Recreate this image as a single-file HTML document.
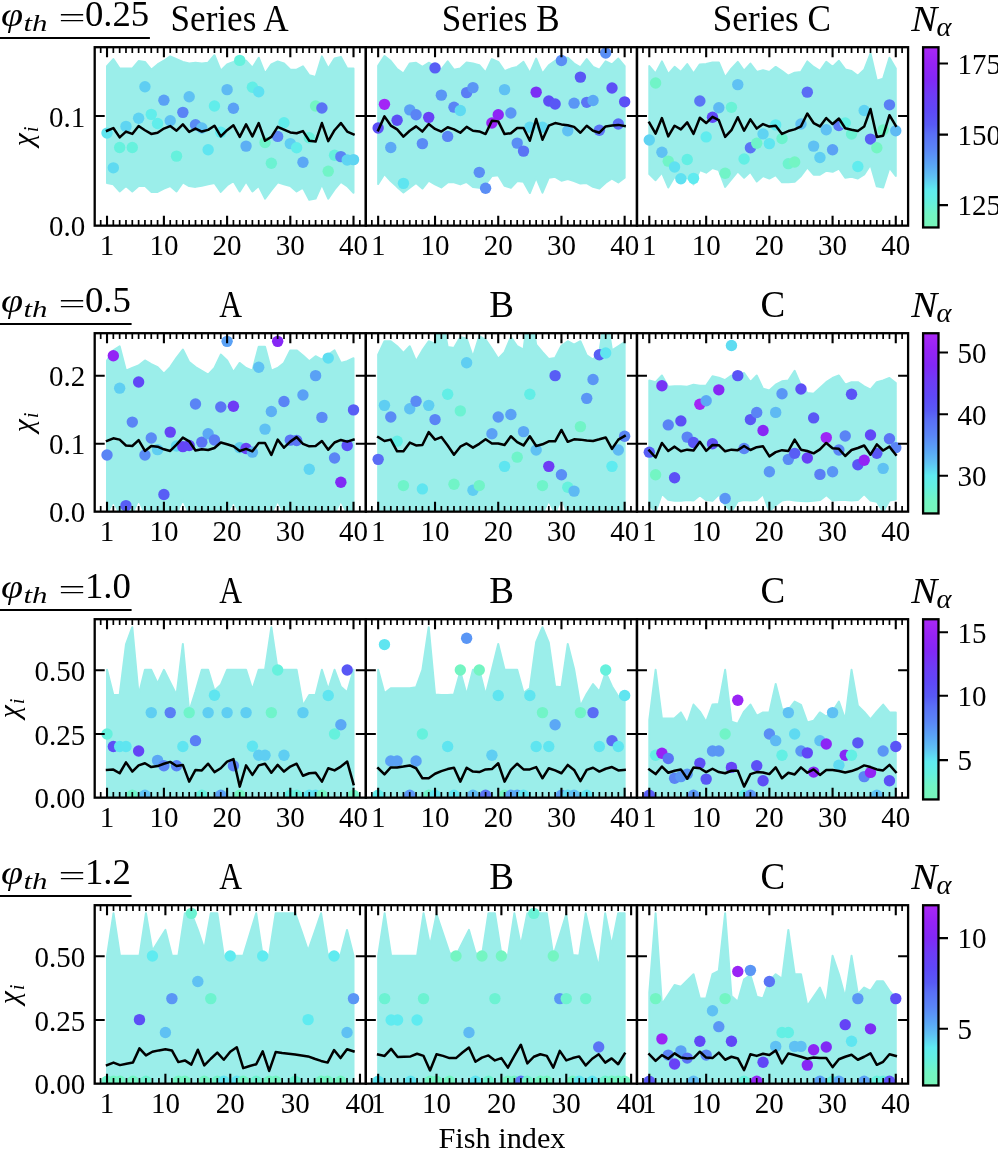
<!DOCTYPE html>
<html><head><meta charset="utf-8"><title>Fish index figure</title>
<style>html,body{margin:0;padding:0;background:#fff}svg{display:block}text{font-family:"Liberation Serif","DejaVu Serif",serif;fill:#000}.tk{font-size:29px}.big{font-size:34px}.it{font-style:italic}</style></head><body>
<svg width="998" height="1149" viewBox="0 0 998 1149">
<rect width="998" height="1149" fill="#fff"/>
<defs><linearGradient id="cb" x1="0" y1="1" x2="0" y2="0">
<stop offset="0" stop-color="rgb(120,245,185)"/>
<stop offset="0.07" stop-color="rgb(115,245,195)"/>
<stop offset="0.15" stop-color="rgb(100,240,225)"/>
<stop offset="0.21" stop-color="rgb(95,235,240)"/>
<stop offset="0.285" stop-color="rgb(95,192,243)"/>
<stop offset="0.35" stop-color="rgb(90,165,245)"/>
<stop offset="0.43" stop-color="rgb(90,135,245)"/>
<stop offset="0.52" stop-color="rgb(90,110,245)"/>
<stop offset="0.57" stop-color="rgb(88,90,245)"/>
<stop offset="0.65" stop-color="rgb(95,72,247)"/>
<stop offset="0.735" stop-color="rgb(110,60,245)"/>
<stop offset="0.82" stop-color="rgb(130,40,245)"/>
<stop offset="0.91" stop-color="rgb(150,35,245)"/>
<stop offset="1" stop-color="rgb(170,40,245)"/>
</linearGradient></defs>
<clipPath id="c1A"><rect x="94.7" y="47.2" width="271.13" height="178.45"/></clipPath>
<g clip-path="url(#c1A)">
<polygon fill="#9beeea" stroke="#9beeea" stroke-width="2" stroke-linejoin="round" points="107.02,66.07 113.34,59.05 119.66,68.57 125.98,68.57 132.3,68.57 138.62,61.05 144.94,61.89 151.26,69.74 157.58,64.39 163.9,60.72 170.22,56.37 176.54,59.05 182.86,61.89 189.18,63.56 195.5,62.72 201.82,63.56 208.14,62.72 214.46,55.2 220.78,70.74 227.1,64.39 233.43,61.89 239.75,59.05 246.07,60.72 252.39,67.74 258.71,57.71 265.03,73.58 271.35,64.39 277.67,61.39 283.99,63.56 290.31,69.74 296.63,69.74 302.95,66.4 309.27,75.26 315.59,76.93 321.91,56.37 328.23,68.57 334.55,58.55 340.87,56.87 347.19,68.57 353.51,68.57 353.51,192.73 347.19,186.05 340.87,181.87 334.55,189.39 328.23,198.58 321.91,184.38 315.59,198.58 309.27,199.75 302.95,187.72 296.63,191.4 290.31,186.05 283.99,184.38 277.67,182.37 271.35,190.23 265.03,198.58 258.71,186.05 252.39,191.4 246.07,181.37 239.75,191.4 233.43,181.04 227.1,185.21 220.78,191.9 214.46,183.04 208.14,184.38 201.82,185.72 195.5,186.89 189.18,186.05 182.86,182.37 176.54,191.4 170.22,186.05 163.9,188.56 157.58,191.9 151.26,191.9 144.94,185.72 138.62,186.05 132.3,191.4 125.98,186.05 119.66,191.4 113.34,184.38 107.02,183.04"/>
<circle cx="107.02" cy="133.08" r="5.7" fill="#5fe5f0"/>
<circle cx="113.34" cy="167.83" r="5.7" fill="#5fdaf1"/>
<circle cx="119.66" cy="147.45" r="5.7" fill="#66f1dd"/>
<circle cx="125.98" cy="126.39" r="5.7" fill="#5fd5f2"/>
<circle cx="132.3" cy="147.45" r="5.7" fill="#66f1dd"/>
<circle cx="138.62" cy="118.2" r="5.7" fill="#5fd3f2"/>
<circle cx="144.94" cy="86.79" r="5.7" fill="#5fcef2"/>
<circle cx="151.26" cy="114.36" r="5.7" fill="#61edeb"/>
<circle cx="157.58" cy="123.55" r="5.7" fill="#61edeb"/>
<circle cx="163.9" cy="100.16" r="5.7" fill="#5aa1f5"/>
<circle cx="170.22" cy="120.71" r="5.7" fill="#5fc1f3"/>
<circle cx="176.54" cy="156.14" r="5.7" fill="#66f1dd"/>
<circle cx="182.86" cy="112.36" r="5.7" fill="#5a84f5"/>
<circle cx="189.18" cy="96.81" r="5.7" fill="#5fc1f3"/>
<circle cx="195.5" cy="124.72" r="5.7" fill="#5a8bf5"/>
<circle cx="201.82" cy="128.06" r="5.7" fill="#5fc1f3"/>
<circle cx="208.14" cy="149.79" r="5.7" fill="#5fe5f0"/>
<circle cx="214.46" cy="106.01" r="5.7" fill="#61edeb"/>
<circle cx="220.78" cy="132.24" r="5.7" fill="#5febf0"/>
<circle cx="227.1" cy="89.63" r="5.7" fill="#5ebaf3"/>
<circle cx="233.43" cy="108.18" r="5.7" fill="#5aa1f5"/>
<circle cx="239.75" cy="60.39" r="5.7" fill="#66f1dd"/>
<circle cx="246.07" cy="146.11" r="5.7" fill="#5caff4"/>
<circle cx="252.39" cy="87.29" r="5.7" fill="#62eee6"/>
<circle cx="258.71" cy="91.8" r="5.7" fill="#5fe1f1"/>
<circle cx="265.03" cy="142.43" r="5.7" fill="#6ff4ca"/>
<circle cx="271.35" cy="163.32" r="5.7" fill="#6cf2d2"/>
<circle cx="277.67" cy="136.42" r="5.7" fill="#5a84f5"/>
<circle cx="283.99" cy="122.72" r="5.7" fill="#61edeb"/>
<circle cx="290.31" cy="143.6" r="5.7" fill="#5fcef2"/>
<circle cx="296.63" cy="147.78" r="5.7" fill="#61edeb"/>
<circle cx="302.95" cy="162.32" r="5.7" fill="#5ba8f5"/>
<circle cx="309.27" cy="137.75" r="5.7" fill="#66f1dd"/>
<circle cx="315.59" cy="106.01" r="5.7" fill="#73f5c3"/>
<circle cx="321.91" cy="108.01" r="5.7" fill="#5a74f5"/>
<circle cx="328.23" cy="171.17" r="5.7" fill="#71f4c7"/>
<circle cx="334.55" cy="155.3" r="5.7" fill="#66f1dd"/>
<circle cx="340.87" cy="156.64" r="5.7" fill="#5a84f5"/>
<circle cx="347.19" cy="159.98" r="5.7" fill="#5fd5f2"/>
<circle cx="353.51" cy="159.64" r="5.7" fill="#5fd5f2"/>
<polyline fill="none" stroke="#000" stroke-width="2.5" stroke-linejoin="round" stroke-linecap="square" points="107.02,130.74 113.34,128.06 119.66,137.42 125.98,131.57 132.3,133.91 138.62,126.06 144.94,130.23 151.26,133.91 157.58,132.74 163.9,128.56 170.22,126.06 176.54,130.74 182.86,124.39 189.18,131.91 195.5,128.56 201.82,131.57 208.14,129.9 214.46,125.72 220.78,136.42 227.1,130.23 233.43,125.22 239.75,136.92 246.07,124.39 252.39,136.42 258.71,123.05 265.03,140.76 271.35,136.92 277.67,126.89 283.99,129.73 290.31,132.41 296.63,133.24 302.95,131.07 309.27,140.76 315.59,141.6 321.91,123.05 328.23,141.1 334.55,130.23 340.87,123.05 347.19,131.57 353.51,134.41"/>
</g>
<path d="M100.7 225.65v-5.7M100.7 47.2v5.7M113.34 225.65v-5.7M113.34 47.2v5.7M119.66 225.65v-5.7M119.66 47.2v5.7M125.98 225.65v-5.7M125.98 47.2v5.7M132.3 225.65v-5.7M132.3 47.2v5.7M138.62 225.65v-5.7M138.62 47.2v5.7M144.94 225.65v-5.7M144.94 47.2v5.7M151.26 225.65v-5.7M151.26 47.2v5.7M157.58 225.65v-5.7M157.58 47.2v5.7M170.22 225.65v-5.7M170.22 47.2v5.7M176.54 225.65v-5.7M176.54 47.2v5.7M182.86 225.65v-5.7M182.86 47.2v5.7M189.18 225.65v-5.7M189.18 47.2v5.7M195.5 225.65v-5.7M195.5 47.2v5.7M201.82 225.65v-5.7M201.82 47.2v5.7M208.14 225.65v-5.7M208.14 47.2v5.7M214.46 225.65v-5.7M214.46 47.2v5.7M220.78 225.65v-5.7M220.78 47.2v5.7M233.43 225.65v-5.7M233.43 47.2v5.7M239.75 225.65v-5.7M239.75 47.2v5.7M246.07 225.65v-5.7M246.07 47.2v5.7M252.39 225.65v-5.7M252.39 47.2v5.7M258.71 225.65v-5.7M258.71 47.2v5.7M265.03 225.65v-5.7M265.03 47.2v5.7M271.35 225.65v-5.7M271.35 47.2v5.7M277.67 225.65v-5.7M277.67 47.2v5.7M283.99 225.65v-5.7M283.99 47.2v5.7M296.63 225.65v-5.7M296.63 47.2v5.7M302.95 225.65v-5.7M302.95 47.2v5.7M309.27 225.65v-5.7M309.27 47.2v5.7M315.59 225.65v-5.7M315.59 47.2v5.7M321.91 225.65v-5.7M321.91 47.2v5.7M328.23 225.65v-5.7M328.23 47.2v5.7M334.55 225.65v-5.7M334.55 47.2v5.7M340.87 225.65v-5.7M340.87 47.2v5.7M347.19 225.65v-5.7M347.19 47.2v5.7M359.83 225.65v-5.7M359.83 47.2v5.7" stroke="#000" stroke-width="1.7" fill="none"/>
<path d="M107.02 225.65v-10M107.02 47.2v10M163.9 225.65v-10M163.9 47.2v10M227.1 225.65v-10M227.1 47.2v10M290.31 225.65v-10M290.31 47.2v10M353.51 225.65v-10M353.51 47.2v10M94.7 116h10M365.83 116h-10" stroke="#000" stroke-width="2.1" fill="none"/>
<rect x="94.7" y="47.2" width="271.13" height="178.45" fill="none" stroke="#000" stroke-width="2.3"/>
<text class="tk" x="107.02" y="254.95" text-anchor="middle">1</text>
<text class="tk" x="163.9" y="254.95" text-anchor="middle">10</text>
<text class="tk" x="227.1" y="254.95" text-anchor="middle">20</text>
<text class="tk" x="290.31" y="254.95" text-anchor="middle">30</text>
<text class="tk" x="353.51" y="254.95" text-anchor="middle">40</text>
<text font-size="37" x="229.56" y="30.8" text-anchor="middle" textLength="118" lengthAdjust="spacingAndGlyphs">Series A</text>
<clipPath id="c1B"><rect x="365.83" y="47.2" width="271.13" height="178.45"/></clipPath>
<g clip-path="url(#c1B)">
<polygon fill="#9beeea" stroke="#9beeea" stroke-width="2" stroke-linejoin="round" points="378.15,65.73 384.47,56.04 390.79,61.05 397.11,69.07 403.43,73.58 409.75,63.56 416.07,62.72 422.39,66.9 428.71,62.72 435.03,66.07 441.35,69.41 447.67,61.39 453.99,69.74 460.31,68.57 466.63,62.39 472.95,63.56 479.27,65.23 485.59,72.42 491.91,59.05 498.23,61.89 504.56,71.08 510.88,68.57 517.2,66.9 523.52,61.89 529.84,73.08 536.16,58.55 542.48,73.58 548.8,65.23 555.12,60.72 561.44,57.71 567.76,57.71 574.08,63.56 580.4,67.4 586.72,59.05 593.04,66.9 599.36,69.74 605.68,61.39 612,64.39 618.32,58.55 624.64,66.07 624.64,177.69 618.32,182.37 612,178.53 605.68,182.71 599.36,188.56 593.04,186.89 586.72,183.04 580.4,183.54 574.08,181.04 567.76,179.03 561.44,180.7 555.12,176.86 548.8,177.69 542.48,192.73 536.16,177.69 529.84,193.07 523.52,181.87 517.2,181.04 510.88,187.72 504.56,185.72 498.23,175.19 491.91,176.02 485.59,184.38 479.27,187.72 472.95,186.89 466.63,181.87 460.31,184.38 453.99,182.37 447.67,182.37 441.35,187.39 435.03,184.38 428.71,180.7 422.39,188.56 416.07,183.04 409.75,187.72 403.43,192.4 397.11,186.89 390.79,181.04 384.47,174.02 378.15,184.04"/>
<circle cx="378.15" cy="128.06" r="5.7" fill="#5c4ff6"/>
<circle cx="384.47" cy="104.33" r="5.7" fill="#a326f5"/>
<circle cx="390.79" cy="147.45" r="5.7" fill="#5ba8f5"/>
<circle cx="397.11" cy="120.21" r="5.7" fill="#5c4ff6"/>
<circle cx="403.43" cy="183.37" r="5.7" fill="#5fe5f0"/>
<circle cx="409.75" cy="109.85" r="5.7" fill="#5aa1f5"/>
<circle cx="416.07" cy="114.69" r="5.7" fill="#5a84f5"/>
<circle cx="422.39" cy="143.6" r="5.7" fill="#5a8bf5"/>
<circle cx="428.71" cy="117.37" r="5.7" fill="#6841f6"/>
<circle cx="435.03" cy="67.91" r="5.7" fill="#585ef5"/>
<circle cx="441.35" cy="95.14" r="5.7" fill="#5a96f5"/>
<circle cx="447.67" cy="136.42" r="5.7" fill="#5a84f5"/>
<circle cx="453.99" cy="107.17" r="5.7" fill="#5a84f5"/>
<circle cx="460.31" cy="110.52" r="5.7" fill="#5fdaf1"/>
<circle cx="466.63" cy="92.64" r="5.7" fill="#5a7ef5"/>
<circle cx="472.95" cy="87.62" r="5.7" fill="#5a96f5"/>
<circle cx="479.27" cy="172.34" r="5.7" fill="#5a8ef5"/>
<circle cx="485.59" cy="188.22" r="5.7" fill="#5a8ef5"/>
<circle cx="491.91" cy="123.05" r="5.7" fill="#9723f5"/>
<circle cx="498.23" cy="114.69" r="5.7" fill="#8e25f5"/>
<circle cx="504.56" cy="89.63" r="5.7" fill="#5fc1f3"/>
<circle cx="510.88" cy="113.02" r="5.7" fill="#5a96f5"/>
<circle cx="517.2" cy="143.1" r="5.7" fill="#5a8ef5"/>
<circle cx="523.52" cy="151.12" r="5.7" fill="#5a74f5"/>
<circle cx="529.84" cy="127.23" r="5.7" fill="#5fdaf1"/>
<circle cx="536.16" cy="92.14" r="5.7" fill="#7b2ff5"/>
<circle cx="542.48" cy="127.23" r="5.7" fill="#5fdaf1"/>
<circle cx="548.8" cy="100.99" r="5.7" fill="#5c4ff6"/>
<circle cx="555.12" cy="104" r="5.7" fill="#5957f5"/>
<circle cx="561.44" cy="60.55" r="5.7" fill="#5a8ef5"/>
<circle cx="567.76" cy="130.74" r="5.7" fill="#5fc1f3"/>
<circle cx="574.08" cy="103.16" r="5.7" fill="#5a96f5"/>
<circle cx="580.4" cy="77.1" r="5.7" fill="#5957f5"/>
<circle cx="586.72" cy="102.33" r="5.7" fill="#5a74f5"/>
<circle cx="593.04" cy="100.49" r="5.7" fill="#5ba8f5"/>
<circle cx="599.36" cy="130.23" r="5.7" fill="#5a74f5"/>
<circle cx="605.68" cy="53.03" r="5.7" fill="#5a8ef5"/>
<circle cx="612" cy="87.96" r="5.7" fill="#5c4ff6"/>
<circle cx="618.32" cy="124.05" r="5.7" fill="#5a6cf5"/>
<circle cx="624.64" cy="101.83" r="5.7" fill="#5c4ff6"/>
<polyline fill="none" stroke="#000" stroke-width="2.5" stroke-linejoin="round" stroke-linecap="square" points="378.15,130.23 384.47,116.37 390.79,125.56 397.11,129.4 403.43,136.58 409.75,130.74 416.07,126.39 422.39,131.57 428.71,124.05 435.03,128.9 441.35,131.57 447.67,127.23 453.99,129.4 460.31,132.74 466.63,126.89 472.95,130.74 479.27,131.4 485.59,134.08 491.91,120.71 498.23,121.38 504.56,134.08 510.88,133.24 517.2,128.06 523.52,128.06 529.84,140.76 536.16,119.04 542.48,139.76 548.8,125.72 555.12,123.05 561.44,124.39 567.76,125.22 574.08,126.89 580.4,132.74 586.72,125.72 593.04,130.74 599.36,132.74 605.68,126.39 612,125.56 618.32,124.89 624.64,126.06"/>
</g>
<path d="M371.83 225.65v-5.7M371.83 47.2v5.7M384.47 225.65v-5.7M384.47 47.2v5.7M390.79 225.65v-5.7M390.79 47.2v5.7M397.11 225.65v-5.7M397.11 47.2v5.7M403.43 225.65v-5.7M403.43 47.2v5.7M409.75 225.65v-5.7M409.75 47.2v5.7M416.07 225.65v-5.7M416.07 47.2v5.7M422.39 225.65v-5.7M422.39 47.2v5.7M428.71 225.65v-5.7M428.71 47.2v5.7M441.35 225.65v-5.7M441.35 47.2v5.7M447.67 225.65v-5.7M447.67 47.2v5.7M453.99 225.65v-5.7M453.99 47.2v5.7M460.31 225.65v-5.7M460.31 47.2v5.7M466.63 225.65v-5.7M466.63 47.2v5.7M472.95 225.65v-5.7M472.95 47.2v5.7M479.27 225.65v-5.7M479.27 47.2v5.7M485.59 225.65v-5.7M485.59 47.2v5.7M491.91 225.65v-5.7M491.91 47.2v5.7M504.56 225.65v-5.7M504.56 47.2v5.7M510.88 225.65v-5.7M510.88 47.2v5.7M517.2 225.65v-5.7M517.2 47.2v5.7M523.52 225.65v-5.7M523.52 47.2v5.7M529.84 225.65v-5.7M529.84 47.2v5.7M536.16 225.65v-5.7M536.16 47.2v5.7M542.48 225.65v-5.7M542.48 47.2v5.7M548.8 225.65v-5.7M548.8 47.2v5.7M555.12 225.65v-5.7M555.12 47.2v5.7M567.76 225.65v-5.7M567.76 47.2v5.7M574.08 225.65v-5.7M574.08 47.2v5.7M580.4 225.65v-5.7M580.4 47.2v5.7M586.72 225.65v-5.7M586.72 47.2v5.7M593.04 225.65v-5.7M593.04 47.2v5.7M599.36 225.65v-5.7M599.36 47.2v5.7M605.68 225.65v-5.7M605.68 47.2v5.7M612 225.65v-5.7M612 47.2v5.7M618.32 225.65v-5.7M618.32 47.2v5.7M630.96 225.65v-5.7M630.96 47.2v5.7" stroke="#000" stroke-width="1.7" fill="none"/>
<path d="M378.15 225.65v-10M378.15 47.2v10M435.03 225.65v-10M435.03 47.2v10M498.23 225.65v-10M498.23 47.2v10M561.44 225.65v-10M561.44 47.2v10M624.64 225.65v-10M624.64 47.2v10M365.83 116h10M636.96 116h-10" stroke="#000" stroke-width="2.1" fill="none"/>
<rect x="365.83" y="47.2" width="271.13" height="178.45" fill="none" stroke="#000" stroke-width="2.3"/>
<text class="tk" x="378.15" y="254.95" text-anchor="middle">1</text>
<text class="tk" x="435.03" y="254.95" text-anchor="middle">10</text>
<text class="tk" x="498.23" y="254.95" text-anchor="middle">20</text>
<text class="tk" x="561.44" y="254.95" text-anchor="middle">30</text>
<text class="tk" x="624.64" y="254.95" text-anchor="middle">40</text>
<text font-size="37" x="500.69" y="30.8" text-anchor="middle" textLength="118" lengthAdjust="spacingAndGlyphs">Series B</text>
<clipPath id="c1C"><rect x="636.97" y="47.2" width="271.13" height="178.45"/></clipPath>
<g clip-path="url(#c1C)">
<polygon fill="#9beeea" stroke="#9beeea" stroke-width="2" stroke-linejoin="round" points="649.29,66.07 655.61,73.58 661.93,61.39 668.25,74.09 674.57,66.9 680.89,71.91 687.21,64.06 693.53,73.58 699.85,64.39 706.17,64.06 712.49,62.39 718.81,62.39 725.13,77.43 731.45,68.57 737.77,61.89 744.09,70.74 750.41,63.56 756.73,71.91 763.05,70.24 769.37,71.91 775.7,66.9 782.02,71.08 788.34,75.76 794.66,72.75 800.98,71.91 807.3,61.39 813.62,66.9 819.94,70.74 826.26,61.89 832.58,66.9 838.9,60.72 845.22,69.41 851.54,71.08 857.86,75.76 864.18,69.74 870.5,53.53 876.82,80.77 883.14,78.6 889.46,57.71 895.78,68.57 895.78,176.02 889.46,167.67 883.14,187.39 876.82,186.38 870.5,164.66 864.18,174.35 857.86,178.53 851.54,176.86 845.22,177.69 838.9,168.5 832.58,171.85 826.26,170.68 819.94,174.69 813.62,174.69 807.3,167.33 800.98,176.02 794.66,181.87 788.34,182.37 782.02,182.37 775.7,175.19 769.37,178.53 763.05,176.02 756.73,181.54 750.41,171.85 744.09,177.69 737.77,171.34 731.45,179.03 725.13,186.89 718.81,170.17 712.49,168 706.17,172.68 699.85,170.17 693.53,184.38 687.21,177.69 680.89,181.04 674.57,176.86 668.25,187.39 661.93,172.68 655.61,180.2 649.29,174.02"/>
<circle cx="649.29" cy="139.93" r="5.7" fill="#5fd3f2"/>
<circle cx="655.61" cy="82.95" r="5.7" fill="#71f4c7"/>
<circle cx="661.93" cy="152.29" r="5.7" fill="#5fc1f3"/>
<circle cx="668.25" cy="161.15" r="5.7" fill="#71f4c7"/>
<circle cx="674.57" cy="167" r="5.7" fill="#5fe1f1"/>
<circle cx="680.89" cy="178.69" r="5.7" fill="#5fe1f1"/>
<circle cx="687.21" cy="159.48" r="5.7" fill="#63efe4"/>
<circle cx="693.53" cy="178.36" r="5.7" fill="#5febf0"/>
<circle cx="699.85" cy="100.99" r="5.7" fill="#5a74f5"/>
<circle cx="706.17" cy="136.92" r="5.7" fill="#60ecee"/>
<circle cx="712.49" cy="117.2" r="5.7" fill="#6047f7"/>
<circle cx="718.81" cy="107.68" r="5.7" fill="#5ebaf3"/>
<circle cx="725.13" cy="173.18" r="5.7" fill="#71f4c7"/>
<circle cx="731.45" cy="107.34" r="5.7" fill="#6af2d6"/>
<circle cx="737.77" cy="84.62" r="5.7" fill="#5fc1f3"/>
<circle cx="744.09" cy="158.98" r="5.7" fill="#63efe4"/>
<circle cx="750.41" cy="147.78" r="5.7" fill="#5a74f5"/>
<circle cx="756.73" cy="143.27" r="5.7" fill="#6ff4ca"/>
<circle cx="763.05" cy="133.91" r="5.7" fill="#5fd3f2"/>
<circle cx="769.37" cy="143.6" r="5.7" fill="#5fe5f0"/>
<circle cx="775.7" cy="124.89" r="5.7" fill="#5febf0"/>
<circle cx="782.02" cy="138.59" r="5.7" fill="#6df3ce"/>
<circle cx="788.34" cy="163.66" r="5.7" fill="#6df3ce"/>
<circle cx="794.66" cy="161.98" r="5.7" fill="#73f5c3"/>
<circle cx="800.98" cy="124.05" r="5.7" fill="#5fc1f3"/>
<circle cx="807.3" cy="92.14" r="5.7" fill="#5a6cf5"/>
<circle cx="813.62" cy="146.11" r="5.7" fill="#5fc1f3"/>
<circle cx="819.94" cy="157.47" r="5.7" fill="#5fcef2"/>
<circle cx="826.26" cy="129.73" r="5.7" fill="#5fc1f3"/>
<circle cx="832.58" cy="149.79" r="5.7" fill="#5aa1f5"/>
<circle cx="838.9" cy="125.56" r="5.7" fill="#5a74f5"/>
<circle cx="845.22" cy="123.05" r="5.7" fill="#63efe4"/>
<circle cx="851.54" cy="134.08" r="5.7" fill="#6cf2d2"/>
<circle cx="857.86" cy="166.5" r="5.7" fill="#60ecee"/>
<circle cx="864.18" cy="110.52" r="5.7" fill="#5fd3f2"/>
<circle cx="870.5" cy="139.09" r="5.7" fill="#585ef5"/>
<circle cx="876.82" cy="147.78" r="5.7" fill="#74f5c2"/>
<circle cx="883.14" cy="129.9" r="5.7" fill="#71f4c7"/>
<circle cx="889.46" cy="104.84" r="5.7" fill="#5a7ef5"/>
<circle cx="895.78" cy="130.74" r="5.7" fill="#5ebaf3"/>
<polyline fill="none" stroke="#000" stroke-width="2.5" stroke-linejoin="round" stroke-linecap="square" points="649.29,122.72 655.61,133.58 661.93,118.04 668.25,136.42 674.57,125.72 680.89,129.4 687.21,122.38 693.53,133.91 699.85,117.7 706.17,123.05 712.49,116.87 718.81,120.21 725.13,136.92 731.45,130.23 737.77,117.2 744.09,130.74 750.41,119.37 756.73,128.56 763.05,124.05 769.37,126.56 775.7,125.72 782.02,133.91 788.34,131.07 794.66,129.4 800.98,126.39 807.3,113.52 813.62,123.05 819.94,126.39 826.26,118.04 832.58,124.05 838.9,118.54 845.22,128.23 851.54,129.73 857.86,131.07 864.18,126.56 870.5,109.01 876.82,136.92 883.14,135.75 889.46,115.2 895.78,125.72"/>
</g>
<path d="M642.97 225.65v-5.7M642.97 47.2v5.7M655.61 225.65v-5.7M655.61 47.2v5.7M661.93 225.65v-5.7M661.93 47.2v5.7M668.25 225.65v-5.7M668.25 47.2v5.7M674.57 225.65v-5.7M674.57 47.2v5.7M680.89 225.65v-5.7M680.89 47.2v5.7M687.21 225.65v-5.7M687.21 47.2v5.7M693.53 225.65v-5.7M693.53 47.2v5.7M699.85 225.65v-5.7M699.85 47.2v5.7M712.49 225.65v-5.7M712.49 47.2v5.7M718.81 225.65v-5.7M718.81 47.2v5.7M725.13 225.65v-5.7M725.13 47.2v5.7M731.45 225.65v-5.7M731.45 47.2v5.7M737.77 225.65v-5.7M737.77 47.2v5.7M744.09 225.65v-5.7M744.09 47.2v5.7M750.41 225.65v-5.7M750.41 47.2v5.7M756.73 225.65v-5.7M756.73 47.2v5.7M763.05 225.65v-5.7M763.05 47.2v5.7M775.7 225.65v-5.7M775.7 47.2v5.7M782.02 225.65v-5.7M782.02 47.2v5.7M788.34 225.65v-5.7M788.34 47.2v5.7M794.66 225.65v-5.7M794.66 47.2v5.7M800.98 225.65v-5.7M800.98 47.2v5.7M807.3 225.65v-5.7M807.3 47.2v5.7M813.62 225.65v-5.7M813.62 47.2v5.7M819.94 225.65v-5.7M819.94 47.2v5.7M826.26 225.65v-5.7M826.26 47.2v5.7M838.9 225.65v-5.7M838.9 47.2v5.7M845.22 225.65v-5.7M845.22 47.2v5.7M851.54 225.65v-5.7M851.54 47.2v5.7M857.86 225.65v-5.7M857.86 47.2v5.7M864.18 225.65v-5.7M864.18 47.2v5.7M870.5 225.65v-5.7M870.5 47.2v5.7M876.82 225.65v-5.7M876.82 47.2v5.7M883.14 225.65v-5.7M883.14 47.2v5.7M889.46 225.65v-5.7M889.46 47.2v5.7M902.1 225.65v-5.7M902.1 47.2v5.7" stroke="#000" stroke-width="1.7" fill="none"/>
<path d="M649.29 225.65v-10M649.29 47.2v10M706.17 225.65v-10M706.17 47.2v10M769.37 225.65v-10M769.37 47.2v10M832.58 225.65v-10M832.58 47.2v10M895.78 225.65v-10M895.78 47.2v10M636.97 116h10M908.1 116h-10" stroke="#000" stroke-width="2.1" fill="none"/>
<rect x="636.97" y="47.2" width="271.13" height="178.45" fill="none" stroke="#000" stroke-width="2.3"/>
<text class="tk" x="649.29" y="254.95" text-anchor="middle">1</text>
<text class="tk" x="706.17" y="254.95" text-anchor="middle">10</text>
<text class="tk" x="769.37" y="254.95" text-anchor="middle">20</text>
<text class="tk" x="832.58" y="254.95" text-anchor="middle">30</text>
<text class="tk" x="895.78" y="254.95" text-anchor="middle">40</text>
<text font-size="37" x="771.84" y="30.8" text-anchor="middle" textLength="118" lengthAdjust="spacingAndGlyphs">Series C</text>
<text class="tk" x="85.2" y="236.15" text-anchor="end">0.0</text>
<text class="tk" x="85.2" y="126.5" text-anchor="end">0.1</text>
<text class="it" font-size="29.5" transform="translate(33.2 146.33) rotate(-90)">χ<tspan font-size="21" dy="5" dx="1.2">i</tspan></text>
<text class="it" font-size="34" x="0.9" y="26" textLength="22.1" lengthAdjust="spacingAndGlyphs">φ</text>
<text class="it" font-size="23" x="23.5" y="31.4" textLength="24" lengthAdjust="spacingAndGlyphs">th</text>
<text font-size="36" transform="translate(58.5 27.3) scale(1 0.77)" textLength="27" lengthAdjust="spacingAndGlyphs">=</text>
<text font-size="36" x="84.9" y="26" textLength="64.3" lengthAdjust="spacingAndGlyphs">0.25</text>
<path d="M0 38H149.9" stroke="#000" stroke-width="1.9"/>
<rect x="923.1" y="47.25" width="15.4" height="180.2" fill="url(#cb)" stroke="#000" stroke-width="2.3"/>
<path d="M939 63.5h9M939 134.6h9M939 205.1h9" stroke="#000" stroke-width="2.1" fill="none"/>
<text class="tk" x="957.6" y="73.8">175</text>
<text class="tk" x="957.6" y="144.9">150</text>
<text class="tk" x="957.6" y="215.4">125</text>
<text class="it" font-size="36" x="911.3" y="30.8" textLength="26" lengthAdjust="spacingAndGlyphs">N</text>
<text class="it" font-size="27" x="936.5" y="35.8" textLength="15" lengthAdjust="spacingAndGlyphs">α</text>
<clipPath id="c2A"><rect x="94.7" y="333.2" width="271.13" height="178.45"/></clipPath>
<g clip-path="url(#c2A)">
<polygon fill="#9beeea" stroke="#9beeea" stroke-width="2" stroke-linejoin="round" points="107.02,360.42 113.34,350.39 119.66,346.22 125.98,370.78 132.3,367.94 138.62,365.43 144.94,360.42 151.26,364.1 157.58,367.1 163.9,373.79 170.22,367.1 176.54,357.91 182.86,349.56 189.18,362.09 195.5,367.1 201.82,370.78 208.14,374.62 214.46,367.94 220.78,354.57 227.1,360.42 233.43,372.12 239.75,362.93 246.07,367.94 252.39,370.78 258.71,346.72 265.03,346.72 271.35,370.78 277.67,367.94 283.99,362.93 290.31,350.39 296.63,350.39 302.95,355.41 309.27,361.26 315.59,356.24 321.91,359.58 328.23,354.57 334.55,350.39 340.87,362.93 347.19,361.26 353.51,358.25 353.51,513.83 347.19,513.83 340.87,500.46 334.55,513.83 328.23,513.83 321.91,513.83 315.59,513.83 309.27,513.83 302.95,513.83 296.63,513.83 290.31,513.83 283.99,513.83 277.67,500.46 271.35,513.83 265.03,513.83 258.71,513.83 252.39,513.83 246.07,513.83 239.75,513.83 233.43,501.29 227.1,513.83 220.78,513.83 214.46,513.83 208.14,513.83 201.82,513.83 195.5,513.83 189.18,513.83 182.86,499.62 176.54,513.83 170.22,513.83 163.9,513.83 157.58,513.83 151.26,513.83 144.94,513.83 138.62,499.62 132.3,513.83 125.98,513.83 119.66,513.83 113.34,501.29 107.02,513.83"/>
<circle cx="107.02" cy="455" r="5.7" fill="#5a84f5"/>
<circle cx="113.34" cy="355.74" r="5.7" fill="#9324f5"/>
<circle cx="119.66" cy="388.16" r="5.7" fill="#5fcef2"/>
<circle cx="125.98" cy="505.63" r="5.7" fill="#585ef5"/>
<circle cx="132.3" cy="422.08" r="5.7" fill="#5a84f5"/>
<circle cx="138.62" cy="381.98" r="5.7" fill="#6047f7"/>
<circle cx="144.94" cy="455" r="5.7" fill="#5a8bf5"/>
<circle cx="151.26" cy="437.96" r="5.7" fill="#5a8bf5"/>
<circle cx="157.58" cy="449.66" r="5.7" fill="#5fcef2"/>
<circle cx="163.9" cy="494.44" r="5.7" fill="#585ef5"/>
<circle cx="170.22" cy="432.11" r="5.7" fill="#6444f6"/>
<circle cx="176.54" cy="445.98" r="5.7" fill="#5fdaf1"/>
<circle cx="182.86" cy="446.65" r="5.7" fill="#6444f6"/>
<circle cx="189.18" cy="445.48" r="5.7" fill="#6047f7"/>
<circle cx="195.5" cy="404.04" r="5.7" fill="#5a84f5"/>
<circle cx="201.82" cy="442.14" r="5.7" fill="#5a74f5"/>
<circle cx="208.14" cy="433.78" r="5.7" fill="#5ba8f5"/>
<circle cx="214.46" cy="439.96" r="5.7" fill="#5a7ef5"/>
<circle cx="220.78" cy="407.04" r="5.7" fill="#5a74f5"/>
<circle cx="227.1" cy="341.37" r="5.7" fill="#5aa1f5"/>
<circle cx="233.43" cy="406.21" r="5.7" fill="#6e3cf5"/>
<circle cx="239.75" cy="447.65" r="5.7" fill="#5fcef2"/>
<circle cx="246.07" cy="448.49" r="5.7" fill="#6841f6"/>
<circle cx="252.39" cy="452.16" r="5.7" fill="#5db3f4"/>
<circle cx="258.71" cy="367.27" r="5.7" fill="#5fc1f3"/>
<circle cx="265.03" cy="429.1" r="5.7" fill="#5fc1f3"/>
<circle cx="271.35" cy="411.56" r="5.7" fill="#5caff4"/>
<circle cx="277.67" cy="341.37" r="5.7" fill="#8727f5"/>
<circle cx="283.99" cy="401.53" r="5.7" fill="#5a84f5"/>
<circle cx="290.31" cy="440.13" r="5.7" fill="#5a74f5"/>
<circle cx="296.63" cy="440.46" r="5.7" fill="#5a74f5"/>
<circle cx="302.95" cy="395.01" r="5.7" fill="#5aa1f5"/>
<circle cx="309.27" cy="469.21" r="5.7" fill="#5fd5f2"/>
<circle cx="315.59" cy="375.63" r="5.7" fill="#5aa1f5"/>
<circle cx="321.91" cy="417.4" r="5.7" fill="#5a8bf5"/>
<circle cx="328.23" cy="358.08" r="5.7" fill="#5fdef1"/>
<circle cx="334.55" cy="458.01" r="5.7" fill="#5a84f5"/>
<circle cx="340.87" cy="482.24" r="5.7" fill="#802af5"/>
<circle cx="347.19" cy="445.48" r="5.7" fill="#5c4ff6"/>
<circle cx="353.51" cy="409.89" r="5.7" fill="#585ef5"/>
<polyline fill="none" stroke="#000" stroke-width="2.5" stroke-linejoin="round" stroke-linecap="square" points="107.02,440.97 113.34,438.29 119.66,439.63 125.98,445.48 132.3,445.98 138.62,440.13 144.94,450.99 151.26,445.98 157.58,446.65 163.9,449.32 170.22,450.99 176.54,444.64 182.86,437.62 189.18,441.3 195.5,450.49 201.82,449.32 208.14,449.99 214.46,447.98 220.78,442.47 227.1,444.31 233.43,446.31 239.75,450.99 246.07,448.82 252.39,451.33 258.71,442.97 265.03,442.97 271.35,455 277.67,439.63 283.99,447.65 290.31,441.63 296.63,437.12 302.95,443.81 309.27,446.31 315.59,445.98 321.91,440.97 328.23,449.66 334.55,442.47 340.87,439.96 347.19,441.63 353.51,439.63"/>
</g>
<path d="M100.7 511.65v-5.7M100.7 333.2v5.7M113.34 511.65v-5.7M113.34 333.2v5.7M119.66 511.65v-5.7M119.66 333.2v5.7M125.98 511.65v-5.7M125.98 333.2v5.7M132.3 511.65v-5.7M132.3 333.2v5.7M138.62 511.65v-5.7M138.62 333.2v5.7M144.94 511.65v-5.7M144.94 333.2v5.7M151.26 511.65v-5.7M151.26 333.2v5.7M157.58 511.65v-5.7M157.58 333.2v5.7M170.22 511.65v-5.7M170.22 333.2v5.7M176.54 511.65v-5.7M176.54 333.2v5.7M182.86 511.65v-5.7M182.86 333.2v5.7M189.18 511.65v-5.7M189.18 333.2v5.7M195.5 511.65v-5.7M195.5 333.2v5.7M201.82 511.65v-5.7M201.82 333.2v5.7M208.14 511.65v-5.7M208.14 333.2v5.7M214.46 511.65v-5.7M214.46 333.2v5.7M220.78 511.65v-5.7M220.78 333.2v5.7M233.43 511.65v-5.7M233.43 333.2v5.7M239.75 511.65v-5.7M239.75 333.2v5.7M246.07 511.65v-5.7M246.07 333.2v5.7M252.39 511.65v-5.7M252.39 333.2v5.7M258.71 511.65v-5.7M258.71 333.2v5.7M265.03 511.65v-5.7M265.03 333.2v5.7M271.35 511.65v-5.7M271.35 333.2v5.7M277.67 511.65v-5.7M277.67 333.2v5.7M283.99 511.65v-5.7M283.99 333.2v5.7M296.63 511.65v-5.7M296.63 333.2v5.7M302.95 511.65v-5.7M302.95 333.2v5.7M309.27 511.65v-5.7M309.27 333.2v5.7M315.59 511.65v-5.7M315.59 333.2v5.7M321.91 511.65v-5.7M321.91 333.2v5.7M328.23 511.65v-5.7M328.23 333.2v5.7M334.55 511.65v-5.7M334.55 333.2v5.7M340.87 511.65v-5.7M340.87 333.2v5.7M347.19 511.65v-5.7M347.19 333.2v5.7M359.83 511.65v-5.7M359.83 333.2v5.7" stroke="#000" stroke-width="1.7" fill="none"/>
<path d="M107.02 511.65v-10M107.02 333.2v10M163.9 511.65v-10M163.9 333.2v10M227.1 511.65v-10M227.1 333.2v10M290.31 511.65v-10M290.31 333.2v10M353.51 511.65v-10M353.51 333.2v10M94.7 443.7h10M365.83 443.7h-10M94.7 375.7h10M365.83 375.7h-10" stroke="#000" stroke-width="2.1" fill="none"/>
<rect x="94.7" y="333.2" width="271.13" height="178.45" fill="none" stroke="#000" stroke-width="2.3"/>
<text class="tk" x="107.02" y="540.95" text-anchor="middle">1</text>
<text class="tk" x="163.9" y="540.95" text-anchor="middle">10</text>
<text class="tk" x="227.1" y="540.95" text-anchor="middle">20</text>
<text class="tk" x="290.31" y="540.95" text-anchor="middle">30</text>
<text class="tk" x="353.51" y="540.95" text-anchor="middle">40</text>
<text font-size="37" x="230.56" y="316.8" text-anchor="middle" textLength="22.8" lengthAdjust="spacingAndGlyphs">A</text>
<clipPath id="c2B"><rect x="365.83" y="333.2" width="271.13" height="178.45"/></clipPath>
<g clip-path="url(#c2B)">
<polygon fill="#9beeea" stroke="#9beeea" stroke-width="2" stroke-linejoin="round" points="378.15,354.57 384.47,341.2 390.79,341.2 397.11,346.22 403.43,352.9 409.75,346.22 416.07,361.26 422.39,350.39 428.71,341.2 435.03,343.71 441.35,311.96 447.67,347.05 453.99,347.89 460.31,337.03 466.63,338.7 472.95,356.74 479.27,336.19 485.59,339.53 491.91,348.72 498.23,358.75 504.56,352.07 510.88,337.03 517.2,346.22 523.52,349.56 529.84,301.93 536.16,344.55 542.48,352.07 548.8,359.08 555.12,357.91 561.44,345.72 567.76,341.2 574.08,344.55 580.4,341.2 586.72,355.41 593.04,359.58 599.36,352.07 605.68,310.29 612,350.39 618.32,346.22 624.64,342.04 624.64,513.83 618.32,513.83 612,513.83 605.68,513.83 599.36,513.83 593.04,513.83 586.72,513.83 580.4,513.83 574.08,513.83 567.76,513.83 561.44,497.95 555.12,513.83 548.8,500.46 542.48,513.83 536.16,513.83 529.84,513.83 523.52,513.83 517.2,513.83 510.88,513.83 504.56,513.83 498.23,513.83 491.91,513.83 485.59,513.83 479.27,513.83 472.95,513.83 466.63,513.83 460.31,513.83 453.99,513.83 447.67,513.83 441.35,513.83 435.03,513.83 428.71,513.83 422.39,513.83 416.07,513.83 409.75,513.83 403.43,513.83 397.11,513.83 390.79,513.83 384.47,513.83 378.15,513.83"/>
<circle cx="378.15" cy="459.35" r="5.7" fill="#5a6cf5"/>
<circle cx="384.47" cy="405.37" r="5.7" fill="#5fcef2"/>
<circle cx="390.79" cy="417.07" r="5.7" fill="#5a8bf5"/>
<circle cx="397.11" cy="441.3" r="5.7" fill="#62eee6"/>
<circle cx="403.43" cy="485.58" r="5.7" fill="#6ff4ca"/>
<circle cx="409.75" cy="408.72" r="5.7" fill="#5fc1f3"/>
<circle cx="416.07" cy="401.2" r="5.7" fill="#5a8bf5"/>
<circle cx="422.39" cy="488.92" r="5.7" fill="#5fe5f0"/>
<circle cx="428.71" cy="405.37" r="5.7" fill="#5fcef2"/>
<circle cx="435.03" cy="419.58" r="5.7" fill="#5a84f5"/>
<circle cx="447.67" cy="394.18" r="5.7" fill="#62eee6"/>
<circle cx="453.99" cy="484.25" r="5.7" fill="#71f4c7"/>
<circle cx="460.31" cy="410.89" r="5.7" fill="#6cf2d2"/>
<circle cx="466.63" cy="362.76" r="5.7" fill="#5fcef2"/>
<circle cx="472.95" cy="490.26" r="5.7" fill="#5fcef2"/>
<circle cx="479.27" cy="485.58" r="5.7" fill="#71f4c7"/>
<circle cx="491.91" cy="433.78" r="5.7" fill="#5aa1f5"/>
<circle cx="498.23" cy="417.07" r="5.7" fill="#5a96f5"/>
<circle cx="504.56" cy="466.37" r="5.7" fill="#5fe5f0"/>
<circle cx="510.88" cy="414.56" r="5.7" fill="#5aa1f5"/>
<circle cx="517.2" cy="457.17" r="5.7" fill="#6ff4ca"/>
<circle cx="523.52" cy="431.61" r="5.7" fill="#5ba8f5"/>
<circle cx="529.84" cy="394.18" r="5.7" fill="#62eee6"/>
<circle cx="536.16" cy="449.99" r="5.7" fill="#5fc1f3"/>
<circle cx="542.48" cy="485.58" r="5.7" fill="#6ff4ca"/>
<circle cx="548.8" cy="466.37" r="5.7" fill="#6e3cf5"/>
<circle cx="555.12" cy="375.63" r="5.7" fill="#585ef5"/>
<circle cx="561.44" cy="474.72" r="5.7" fill="#5a8ef5"/>
<circle cx="567.76" cy="487.25" r="5.7" fill="#66f1dd"/>
<circle cx="574.08" cy="491.1" r="5.7" fill="#5ebaf3"/>
<circle cx="580.4" cy="426.6" r="5.7" fill="#71f4c7"/>
<circle cx="586.72" cy="398.36" r="5.7" fill="#5a96f5"/>
<circle cx="593.04" cy="379.47" r="5.7" fill="#5a96f5"/>
<circle cx="599.36" cy="354.74" r="5.7" fill="#585ef5"/>
<circle cx="605.68" cy="353.07" r="5.7" fill="#5fe5f0"/>
<circle cx="612" cy="466.37" r="5.7" fill="#5febf0"/>
<circle cx="618.32" cy="449.99" r="5.7" fill="#5ebaf3"/>
<circle cx="624.64" cy="436.29" r="5.7" fill="#5a84f5"/>
<polyline fill="none" stroke="#000" stroke-width="2.5" stroke-linejoin="round" stroke-linecap="square" points="378.15,437.12 384.47,440.97 390.79,439.63 397.11,451.33 403.43,451.33 409.75,442.64 416.07,445.48 422.39,444.98 428.71,432.11 435.03,439.63 441.35,437.12 447.67,445.48 453.99,454.67 460.31,446.65 466.63,443.47 472.95,447.65 479.27,443.81 485.59,439.3 491.91,443.47 498.23,443.47 504.56,444.98 510.88,436.29 517.2,442.14 523.52,445.48 529.84,436.29 536.16,445.98 542.48,444.31 548.8,441.3 555.12,441.3 561.44,429.94 567.76,441.8 574.08,439.3 580.4,439.63 586.72,440.46 593.04,440.97 599.36,439.3 605.68,437.46 612,448.82 618.32,439.63 624.64,435.95"/>
</g>
<path d="M371.83 511.65v-5.7M371.83 333.2v5.7M384.47 511.65v-5.7M384.47 333.2v5.7M390.79 511.65v-5.7M390.79 333.2v5.7M397.11 511.65v-5.7M397.11 333.2v5.7M403.43 511.65v-5.7M403.43 333.2v5.7M409.75 511.65v-5.7M409.75 333.2v5.7M416.07 511.65v-5.7M416.07 333.2v5.7M422.39 511.65v-5.7M422.39 333.2v5.7M428.71 511.65v-5.7M428.71 333.2v5.7M441.35 511.65v-5.7M441.35 333.2v5.7M447.67 511.65v-5.7M447.67 333.2v5.7M453.99 511.65v-5.7M453.99 333.2v5.7M460.31 511.65v-5.7M460.31 333.2v5.7M466.63 511.65v-5.7M466.63 333.2v5.7M472.95 511.65v-5.7M472.95 333.2v5.7M479.27 511.65v-5.7M479.27 333.2v5.7M485.59 511.65v-5.7M485.59 333.2v5.7M491.91 511.65v-5.7M491.91 333.2v5.7M504.56 511.65v-5.7M504.56 333.2v5.7M510.88 511.65v-5.7M510.88 333.2v5.7M517.2 511.65v-5.7M517.2 333.2v5.7M523.52 511.65v-5.7M523.52 333.2v5.7M529.84 511.65v-5.7M529.84 333.2v5.7M536.16 511.65v-5.7M536.16 333.2v5.7M542.48 511.65v-5.7M542.48 333.2v5.7M548.8 511.65v-5.7M548.8 333.2v5.7M555.12 511.65v-5.7M555.12 333.2v5.7M567.76 511.65v-5.7M567.76 333.2v5.7M574.08 511.65v-5.7M574.08 333.2v5.7M580.4 511.65v-5.7M580.4 333.2v5.7M586.72 511.65v-5.7M586.72 333.2v5.7M593.04 511.65v-5.7M593.04 333.2v5.7M599.36 511.65v-5.7M599.36 333.2v5.7M605.68 511.65v-5.7M605.68 333.2v5.7M612 511.65v-5.7M612 333.2v5.7M618.32 511.65v-5.7M618.32 333.2v5.7M630.96 511.65v-5.7M630.96 333.2v5.7" stroke="#000" stroke-width="1.7" fill="none"/>
<path d="M378.15 511.65v-10M378.15 333.2v10M435.03 511.65v-10M435.03 333.2v10M498.23 511.65v-10M498.23 333.2v10M561.44 511.65v-10M561.44 333.2v10M624.64 511.65v-10M624.64 333.2v10M365.83 443.7h10M636.96 443.7h-10M365.83 375.7h10M636.96 375.7h-10" stroke="#000" stroke-width="2.1" fill="none"/>
<rect x="365.83" y="333.2" width="271.13" height="178.45" fill="none" stroke="#000" stroke-width="2.3"/>
<text class="tk" x="378.15" y="540.95" text-anchor="middle">1</text>
<text class="tk" x="435.03" y="540.95" text-anchor="middle">10</text>
<text class="tk" x="498.23" y="540.95" text-anchor="middle">20</text>
<text class="tk" x="561.44" y="540.95" text-anchor="middle">30</text>
<text class="tk" x="624.64" y="540.95" text-anchor="middle">40</text>
<text font-size="37" x="501.69" y="316.8" text-anchor="middle">B</text>
<clipPath id="c2C"><rect x="636.97" y="333.2" width="271.13" height="178.45"/></clipPath>
<g clip-path="url(#c2C)">
<polygon fill="#9beeea" stroke="#9beeea" stroke-width="2" stroke-linejoin="round" points="649.29,380.47 655.61,382.14 661.93,375.46 668.25,386.82 674.57,386.32 680.89,386.32 687.21,386.82 693.53,384.65 699.85,385.82 706.17,385.49 712.49,376.3 718.81,377.63 725.13,380.14 731.45,375.46 737.77,377.13 744.09,372.95 750.41,382.14 756.73,375.46 763.05,388.83 769.37,390.5 775.7,384.65 782.02,381.31 788.34,380.47 794.66,370.78 800.98,385.49 807.3,393.01 813.62,393.84 819.94,387.99 826.26,382.14 832.58,377.97 838.9,375.46 845.22,384.65 851.54,382.14 857.86,382.14 864.18,386.32 870.5,389.66 876.82,382.14 883.14,380.47 889.46,377.97 895.78,382.98 895.78,499.62 889.46,500.46 883.14,511.82 876.82,501.79 870.5,500.46 864.18,494.11 857.86,500.12 851.54,500.46 845.22,500.12 838.9,500.12 832.58,500.46 826.26,495.11 819.94,500.12 813.62,500.79 807.3,501.29 800.98,500.96 794.66,500.46 788.34,499.62 782.02,500.46 775.7,505.14 769.37,511.82 763.05,494.27 756.73,499.96 750.41,500.46 744.09,500.12 737.77,501.29 731.45,511.82 725.13,505.14 718.81,494.44 712.49,500.79 706.17,500.12 699.85,495.28 693.53,500.46 687.21,500.12 680.89,500.79 674.57,500.79 668.25,499.79 661.93,493.77 655.61,511.82 649.29,505.8"/>
<circle cx="649.29" cy="452.16" r="5.7" fill="#585ef5"/>
<circle cx="655.61" cy="474.72" r="5.7" fill="#73f5c3"/>
<circle cx="661.93" cy="385.82" r="5.7" fill="#7634f5"/>
<circle cx="668.25" cy="424.92" r="5.7" fill="#5a84f5"/>
<circle cx="674.57" cy="477.73" r="5.7" fill="#5c4ff6"/>
<circle cx="680.89" cy="420.91" r="5.7" fill="#5c4ff6"/>
<circle cx="687.21" cy="437.12" r="5.7" fill="#5a84f5"/>
<circle cx="693.53" cy="442.47" r="5.7" fill="#5957f5"/>
<circle cx="699.85" cy="404.2" r="5.7" fill="#a326f5"/>
<circle cx="706.17" cy="400.69" r="5.7" fill="#5ba8f5"/>
<circle cx="712.49" cy="443.81" r="5.7" fill="#5c4ff6"/>
<circle cx="718.81" cy="389.83" r="5.7" fill="#8727f5"/>
<circle cx="725.13" cy="498.45" r="5.7" fill="#5a96f5"/>
<circle cx="731.45" cy="345.55" r="5.7" fill="#5fdcf1"/>
<circle cx="737.77" cy="375.63" r="5.7" fill="#5a54f6"/>
<circle cx="744.09" cy="448.49" r="5.7" fill="#5a84f5"/>
<circle cx="750.41" cy="419.58" r="5.7" fill="#5957f5"/>
<circle cx="756.73" cy="412.56" r="5.7" fill="#5a84f5"/>
<circle cx="763.05" cy="430.44" r="5.7" fill="#8727f5"/>
<circle cx="769.37" cy="471.71" r="5.7" fill="#5a96f5"/>
<circle cx="775.7" cy="412.39" r="5.7" fill="#5ebaf3"/>
<circle cx="782.02" cy="393.68" r="5.7" fill="#5a96f5"/>
<circle cx="788.34" cy="459.35" r="5.7" fill="#5a8bf5"/>
<circle cx="794.66" cy="453.33" r="5.7" fill="#585ef5"/>
<circle cx="800.98" cy="389" r="5.7" fill="#5c4ff6"/>
<circle cx="807.3" cy="458.01" r="5.7" fill="#6841f6"/>
<circle cx="813.62" cy="417.91" r="5.7" fill="#5957f5"/>
<circle cx="819.94" cy="474.39" r="5.7" fill="#5a7ef5"/>
<circle cx="826.26" cy="437.62" r="5.7" fill="#9e25f5"/>
<circle cx="832.58" cy="471.71" r="5.7" fill="#5a96f5"/>
<circle cx="838.9" cy="449.99" r="5.7" fill="#5a84f5"/>
<circle cx="845.22" cy="435.95" r="5.7" fill="#5a84f5"/>
<circle cx="851.54" cy="394.18" r="5.7" fill="#5a54f6"/>
<circle cx="857.86" cy="464.69" r="5.7" fill="#5a54f6"/>
<circle cx="864.18" cy="460.18" r="5.7" fill="#9324f5"/>
<circle cx="870.5" cy="434.95" r="5.7" fill="#6047f7"/>
<circle cx="876.82" cy="453.33" r="5.7" fill="#5957f5"/>
<circle cx="883.14" cy="468.37" r="5.7" fill="#5fc1f3"/>
<circle cx="889.46" cy="438.79" r="5.7" fill="#5a74f5"/>
<circle cx="895.78" cy="447.65" r="5.7" fill="#5a84f5"/>
<polyline fill="none" stroke="#000" stroke-width="2.5" stroke-linejoin="round" stroke-linecap="square" points="649.29,450.49 655.61,457.51 661.93,442.97 668.25,450.99 674.57,446.65 680.89,451.33 687.21,449.66 693.53,450.49 699.85,441.8 706.17,450.83 712.49,444.98 718.81,445.14 725.13,451.33 731.45,449.66 737.77,450.16 744.09,445.98 750.41,449.99 756.73,447.15 763.05,446.31 769.37,456.34 775.7,452.16 782.02,450.16 788.34,450.99 794.66,439.63 800.98,449.66 807.3,450.99 813.62,453.33 819.94,449.32 826.26,442.97 832.58,448.32 838.9,448.82 845.22,456.01 851.54,449.99 857.86,447.98 864.18,445.48 870.5,454.67 876.82,444.31 883.14,450.49 889.46,446.65 895.78,454.67"/>
</g>
<path d="M642.97 511.65v-5.7M642.97 333.2v5.7M655.61 511.65v-5.7M655.61 333.2v5.7M661.93 511.65v-5.7M661.93 333.2v5.7M668.25 511.65v-5.7M668.25 333.2v5.7M674.57 511.65v-5.7M674.57 333.2v5.7M680.89 511.65v-5.7M680.89 333.2v5.7M687.21 511.65v-5.7M687.21 333.2v5.7M693.53 511.65v-5.7M693.53 333.2v5.7M699.85 511.65v-5.7M699.85 333.2v5.7M712.49 511.65v-5.7M712.49 333.2v5.7M718.81 511.65v-5.7M718.81 333.2v5.7M725.13 511.65v-5.7M725.13 333.2v5.7M731.45 511.65v-5.7M731.45 333.2v5.7M737.77 511.65v-5.7M737.77 333.2v5.7M744.09 511.65v-5.7M744.09 333.2v5.7M750.41 511.65v-5.7M750.41 333.2v5.7M756.73 511.65v-5.7M756.73 333.2v5.7M763.05 511.65v-5.7M763.05 333.2v5.7M775.7 511.65v-5.7M775.7 333.2v5.7M782.02 511.65v-5.7M782.02 333.2v5.7M788.34 511.65v-5.7M788.34 333.2v5.7M794.66 511.65v-5.7M794.66 333.2v5.7M800.98 511.65v-5.7M800.98 333.2v5.7M807.3 511.65v-5.7M807.3 333.2v5.7M813.62 511.65v-5.7M813.62 333.2v5.7M819.94 511.65v-5.7M819.94 333.2v5.7M826.26 511.65v-5.7M826.26 333.2v5.7M838.9 511.65v-5.7M838.9 333.2v5.7M845.22 511.65v-5.7M845.22 333.2v5.7M851.54 511.65v-5.7M851.54 333.2v5.7M857.86 511.65v-5.7M857.86 333.2v5.7M864.18 511.65v-5.7M864.18 333.2v5.7M870.5 511.65v-5.7M870.5 333.2v5.7M876.82 511.65v-5.7M876.82 333.2v5.7M883.14 511.65v-5.7M883.14 333.2v5.7M889.46 511.65v-5.7M889.46 333.2v5.7M902.1 511.65v-5.7M902.1 333.2v5.7" stroke="#000" stroke-width="1.7" fill="none"/>
<path d="M649.29 511.65v-10M649.29 333.2v10M706.17 511.65v-10M706.17 333.2v10M769.37 511.65v-10M769.37 333.2v10M832.58 511.65v-10M832.58 333.2v10M895.78 511.65v-10M895.78 333.2v10M636.97 443.7h10M908.1 443.7h-10M636.97 375.7h10M908.1 375.7h-10" stroke="#000" stroke-width="2.1" fill="none"/>
<rect x="636.97" y="333.2" width="271.13" height="178.45" fill="none" stroke="#000" stroke-width="2.3"/>
<text class="tk" x="649.29" y="540.95" text-anchor="middle">1</text>
<text class="tk" x="706.17" y="540.95" text-anchor="middle">10</text>
<text class="tk" x="769.37" y="540.95" text-anchor="middle">20</text>
<text class="tk" x="832.58" y="540.95" text-anchor="middle">30</text>
<text class="tk" x="895.78" y="540.95" text-anchor="middle">40</text>
<text font-size="37" x="772.84" y="316.8" text-anchor="middle">C</text>
<text class="tk" x="85.2" y="522.15" text-anchor="end">0.0</text>
<text class="tk" x="85.2" y="454.2" text-anchor="end">0.1</text>
<text class="tk" x="85.2" y="386.2" text-anchor="end">0.2</text>
<text class="it" font-size="29.5" transform="translate(33.2 432.32) rotate(-90)">χ<tspan font-size="21" dy="5" dx="1.2">i</tspan></text>
<text class="it" font-size="34" x="0.9" y="312" textLength="22.1" lengthAdjust="spacingAndGlyphs">φ</text>
<text class="it" font-size="23" x="23.5" y="317.4" textLength="24" lengthAdjust="spacingAndGlyphs">th</text>
<text font-size="36" transform="translate(58.5 313.3) scale(1 0.77)" textLength="27" lengthAdjust="spacingAndGlyphs">=</text>
<text font-size="36" x="84.9" y="312" textLength="46.0" lengthAdjust="spacingAndGlyphs">0.5</text>
<path d="M0 324H131.6" stroke="#000" stroke-width="1.9"/>
<rect x="923.1" y="333.25" width="15.4" height="180.2" fill="url(#cb)" stroke="#000" stroke-width="2.3"/>
<path d="M939 352.5h9M939 414.2h9M939 475.8h9" stroke="#000" stroke-width="2.1" fill="none"/>
<text class="tk" x="957.6" y="362.8">50</text>
<text class="tk" x="957.6" y="424.5">40</text>
<text class="tk" x="957.6" y="486.1">30</text>
<text class="it" font-size="36" x="911.3" y="316.8" textLength="26" lengthAdjust="spacingAndGlyphs">N</text>
<text class="it" font-size="27" x="936.5" y="321.8" textLength="15" lengthAdjust="spacingAndGlyphs">α</text>
<clipPath id="c3A"><rect x="94.7" y="619.2" width="271.13" height="178.45"/></clipPath>
<g clip-path="url(#c3A)">
<polygon fill="#9beeea" stroke="#9beeea" stroke-width="2" stroke-linejoin="round" points="107.02,669.81 113.34,694.88 119.66,694.88 125.98,644.42 132.3,627.2 138.62,694.88 144.94,669.81 151.26,669.81 157.58,683.52 163.9,669.81 170.22,682.35 176.54,694.88 182.86,643.91 189.18,711.59 195.5,691.54 201.82,669.81 208.14,669.81 214.46,690.7 220.78,684.85 227.1,669.81 233.43,669.81 239.75,669.81 246.07,669.81 252.39,689.87 258.71,669.81 265.03,669.81 271.35,627.2 277.67,669.81 283.99,669.81 290.31,669.81 296.63,669.81 302.95,705.74 309.27,694.88 315.59,694.88 321.91,669.81 328.23,689.53 334.55,669.81 340.87,686.86 347.19,692.37 353.51,669.81 353.51,799.83 347.19,799.83 340.87,799.83 334.55,799.83 328.23,799.83 321.91,799.83 315.59,799.83 309.27,799.83 302.95,799.83 296.63,799.83 290.31,799.83 283.99,799.83 277.67,799.83 271.35,799.83 265.03,799.83 258.71,799.83 252.39,799.83 246.07,799.83 239.75,799.83 233.43,799.83 227.1,799.83 220.78,799.83 214.46,799.83 208.14,799.83 201.82,799.83 195.5,799.83 189.18,799.83 182.86,799.83 176.54,799.83 170.22,799.83 163.9,799.83 157.58,799.83 151.26,799.83 144.94,799.83 138.62,799.83 132.3,799.83 125.98,799.83 119.66,799.83 113.34,799.83 107.02,799.83"/>
<circle cx="107.02" cy="733.98" r="5.7" fill="#66f1dd"/>
<circle cx="113.34" cy="746.52" r="5.7" fill="#5c4ff6"/>
<circle cx="119.66" cy="746.52" r="5.7" fill="#5fe5f0"/>
<circle cx="125.98" cy="746.52" r="5.7" fill="#5fe5f0"/>
<circle cx="132.3" cy="795.31" r="5.7" fill="#6ff4ca"/>
<circle cx="138.62" cy="751.03" r="5.7" fill="#6444f6"/>
<circle cx="144.94" cy="795.31" r="5.7" fill="#5fc1f3"/>
<circle cx="151.26" cy="712.6" r="5.7" fill="#5fcef2"/>
<circle cx="157.58" cy="760.39" r="5.7" fill="#5ba8f5"/>
<circle cx="163.9" cy="765.73" r="5.7" fill="#5a84f5"/>
<circle cx="170.22" cy="712.6" r="5.7" fill="#5a7ef5"/>
<circle cx="176.54" cy="765.73" r="5.7" fill="#5a84f5"/>
<circle cx="182.86" cy="746.52" r="5.7" fill="#5fe5f0"/>
<circle cx="189.18" cy="712.6" r="5.7" fill="#6ff4ca"/>
<circle cx="195.5" cy="740.67" r="5.7" fill="#5a7ef5"/>
<circle cx="201.82" cy="795.31" r="5.7" fill="#66f1dd"/>
<circle cx="208.14" cy="712.6" r="5.7" fill="#5fcef2"/>
<circle cx="214.46" cy="695.22" r="5.7" fill="#5fe5f0"/>
<circle cx="220.78" cy="795.31" r="5.7" fill="#5aa1f5"/>
<circle cx="227.1" cy="712.6" r="5.7" fill="#5fcef2"/>
<circle cx="233.43" cy="765.73" r="5.7" fill="#5a84f5"/>
<circle cx="239.75" cy="795.31" r="5.7" fill="#73f5c3"/>
<circle cx="246.07" cy="712.6" r="5.7" fill="#5fcef2"/>
<circle cx="252.39" cy="746.18" r="5.7" fill="#5fe5f0"/>
<circle cx="258.71" cy="755.21" r="5.7" fill="#5fcef2"/>
<circle cx="265.03" cy="755.21" r="5.7" fill="#5fcef2"/>
<circle cx="271.35" cy="712.6" r="5.7" fill="#6ff4ca"/>
<circle cx="277.67" cy="669.98" r="5.7" fill="#66f1dd"/>
<circle cx="283.99" cy="755.21" r="5.7" fill="#5fcef2"/>
<circle cx="290.31" cy="795.31" r="5.7" fill="#63efe4"/>
<circle cx="296.63" cy="795.31" r="5.7" fill="#66f1dd"/>
<circle cx="302.95" cy="712.6" r="5.7" fill="#5fcef2"/>
<circle cx="309.27" cy="795.31" r="5.7" fill="#5fe5f0"/>
<circle cx="315.59" cy="795.31" r="5.7" fill="#5fe1f1"/>
<circle cx="321.91" cy="795.31" r="5.7" fill="#73f5c3"/>
<circle cx="328.23" cy="695.55" r="5.7" fill="#5fe5f0"/>
<circle cx="334.55" cy="733.98" r="5.7" fill="#66f1dd"/>
<circle cx="340.87" cy="724.79" r="5.7" fill="#5ba8f5"/>
<circle cx="347.19" cy="669.98" r="5.7" fill="#5957f5"/>
<circle cx="353.51" cy="795.31" r="5.7" fill="#71f4c7"/>
<polyline fill="none" stroke="#000" stroke-width="2.5" stroke-linejoin="round" stroke-linecap="square" points="107.02,769.91 113.34,769.58 119.66,773.25 125.98,762.39 132.3,771.58 138.62,765.4 144.94,763.23 151.26,767.07 157.58,766.07 163.9,763.73 170.22,761.89 176.54,766.07 182.86,764.9 189.18,781.61 195.5,769.91 201.82,770.41 208.14,763.73 214.46,772.08 220.78,768.24 227.1,761.56 233.43,759.05 239.75,786.62 246.07,765.4 252.39,774.92 258.71,765.4 265.03,763.73 271.35,772.75 277.67,764.9 283.99,771.58 290.31,766.57 296.63,763.73 302.95,775.76 309.27,773.25 315.59,772.75 321.91,781.61 328.23,768.24 334.55,770.41 340.87,766.57 347.19,761.56 353.51,784.11"/>
</g>
<path d="M100.7 797.65v-5.7M100.7 619.2v5.7M113.34 797.65v-5.7M113.34 619.2v5.7M119.66 797.65v-5.7M119.66 619.2v5.7M125.98 797.65v-5.7M125.98 619.2v5.7M132.3 797.65v-5.7M132.3 619.2v5.7M138.62 797.65v-5.7M138.62 619.2v5.7M144.94 797.65v-5.7M144.94 619.2v5.7M151.26 797.65v-5.7M151.26 619.2v5.7M157.58 797.65v-5.7M157.58 619.2v5.7M170.22 797.65v-5.7M170.22 619.2v5.7M176.54 797.65v-5.7M176.54 619.2v5.7M182.86 797.65v-5.7M182.86 619.2v5.7M189.18 797.65v-5.7M189.18 619.2v5.7M195.5 797.65v-5.7M195.5 619.2v5.7M201.82 797.65v-5.7M201.82 619.2v5.7M208.14 797.65v-5.7M208.14 619.2v5.7M214.46 797.65v-5.7M214.46 619.2v5.7M220.78 797.65v-5.7M220.78 619.2v5.7M233.43 797.65v-5.7M233.43 619.2v5.7M239.75 797.65v-5.7M239.75 619.2v5.7M246.07 797.65v-5.7M246.07 619.2v5.7M252.39 797.65v-5.7M252.39 619.2v5.7M258.71 797.65v-5.7M258.71 619.2v5.7M265.03 797.65v-5.7M265.03 619.2v5.7M271.35 797.65v-5.7M271.35 619.2v5.7M277.67 797.65v-5.7M277.67 619.2v5.7M283.99 797.65v-5.7M283.99 619.2v5.7M296.63 797.65v-5.7M296.63 619.2v5.7M302.95 797.65v-5.7M302.95 619.2v5.7M309.27 797.65v-5.7M309.27 619.2v5.7M315.59 797.65v-5.7M315.59 619.2v5.7M321.91 797.65v-5.7M321.91 619.2v5.7M328.23 797.65v-5.7M328.23 619.2v5.7M334.55 797.65v-5.7M334.55 619.2v5.7M340.87 797.65v-5.7M340.87 619.2v5.7M347.19 797.65v-5.7M347.19 619.2v5.7M359.83 797.65v-5.7M359.83 619.2v5.7" stroke="#000" stroke-width="1.7" fill="none"/>
<path d="M107.02 797.65v-10M107.02 619.2v10M163.9 797.65v-10M163.9 619.2v10M227.1 797.65v-10M227.1 619.2v10M290.31 797.65v-10M290.31 619.2v10M353.51 797.65v-10M353.51 619.2v10M94.7 734h10M365.83 734h-10M94.7 670.3h10M365.83 670.3h-10" stroke="#000" stroke-width="2.1" fill="none"/>
<rect x="94.7" y="619.2" width="271.13" height="178.45" fill="none" stroke="#000" stroke-width="2.3"/>
<text class="tk" x="107.02" y="826.95" text-anchor="middle">1</text>
<text class="tk" x="163.9" y="826.95" text-anchor="middle">10</text>
<text class="tk" x="227.1" y="826.95" text-anchor="middle">20</text>
<text class="tk" x="290.31" y="826.95" text-anchor="middle">30</text>
<text class="tk" x="353.51" y="826.95" text-anchor="middle">40</text>
<text font-size="37" x="230.56" y="602.8" text-anchor="middle" textLength="22.8" lengthAdjust="spacingAndGlyphs">A</text>
<clipPath id="c3B"><rect x="365.83" y="619.2" width="271.13" height="178.45"/></clipPath>
<g clip-path="url(#c3B)">
<polygon fill="#9beeea" stroke="#9beeea" stroke-width="2" stroke-linejoin="round" points="378.15,669.81 384.47,693.21 390.79,688.2 397.11,688.2 403.43,688.2 409.75,688.2 416.07,687.36 422.39,669.81 428.71,627.2 435.03,694.55 441.35,694.88 447.67,694.88 453.99,694.55 460.31,671.49 466.63,694.88 472.95,669.81 479.27,669.81 485.59,694.88 491.91,669.81 498.23,643.91 504.56,669.81 510.88,669.81 517.2,669.81 523.52,692.87 529.84,688.2 536.16,642.24 542.48,627.2 548.8,642.74 555.12,686.52 561.44,687.36 567.76,643.91 574.08,668.98 580.4,706.24 586.72,694.04 593.04,684.02 599.36,691.54 605.68,672.32 612,686.52 618.32,696.55 624.64,696.55 624.64,799.83 618.32,799.83 612,799.83 605.68,799.83 599.36,799.83 593.04,799.83 586.72,799.83 580.4,799.83 574.08,799.83 567.76,799.83 561.44,799.83 555.12,799.83 548.8,799.83 542.48,799.83 536.16,799.83 529.84,799.83 523.52,799.83 517.2,799.83 510.88,799.83 504.56,799.83 498.23,799.83 491.91,799.83 485.59,799.83 479.27,799.83 472.95,799.83 466.63,799.83 460.31,799.83 453.99,799.83 447.67,799.83 441.35,799.83 435.03,799.83 428.71,799.83 422.39,799.83 416.07,799.83 409.75,799.83 403.43,799.83 397.11,799.83 390.79,799.83 384.47,799.83 378.15,799.83"/>
<circle cx="378.15" cy="795.31" r="5.7" fill="#61edeb"/>
<circle cx="384.47" cy="644.58" r="5.7" fill="#5fe5f0"/>
<circle cx="390.79" cy="761.05" r="5.7" fill="#5aa1f5"/>
<circle cx="397.11" cy="761.05" r="5.7" fill="#5aa1f5"/>
<circle cx="409.75" cy="795.31" r="5.7" fill="#5a96f5"/>
<circle cx="416.07" cy="761.05" r="5.7" fill="#5aa1f5"/>
<circle cx="422.39" cy="733.98" r="5.7" fill="#66f1dd"/>
<circle cx="428.71" cy="795.31" r="5.7" fill="#6ff4ca"/>
<circle cx="435.03" cy="795.31" r="5.7" fill="#5fe5f0"/>
<circle cx="447.67" cy="746.52" r="5.7" fill="#5fe5f0"/>
<circle cx="453.99" cy="795.31" r="5.7" fill="#5fe5f0"/>
<circle cx="460.31" cy="669.98" r="5.7" fill="#74f5c2"/>
<circle cx="466.63" cy="638.23" r="5.7" fill="#5a96f5"/>
<circle cx="472.95" cy="795.31" r="5.7" fill="#5ebaf3"/>
<circle cx="479.27" cy="669.98" r="5.7" fill="#74f5c2"/>
<circle cx="485.59" cy="795.31" r="5.7" fill="#5a74f5"/>
<circle cx="491.91" cy="755.21" r="5.7" fill="#5fcef2"/>
<circle cx="498.23" cy="695.55" r="5.7" fill="#5fe5f0"/>
<circle cx="504.56" cy="795.31" r="5.7" fill="#73f5c3"/>
<circle cx="510.88" cy="795.31" r="5.7" fill="#5ba8f5"/>
<circle cx="517.2" cy="795.31" r="5.7" fill="#5ba8f5"/>
<circle cx="523.52" cy="795.31" r="5.7" fill="#5fe5f0"/>
<circle cx="529.84" cy="695.55" r="5.7" fill="#5fe5f0"/>
<circle cx="536.16" cy="746.52" r="5.7" fill="#5fe5f0"/>
<circle cx="542.48" cy="712.6" r="5.7" fill="#71f4c7"/>
<circle cx="548.8" cy="746.52" r="5.7" fill="#5fe5f0"/>
<circle cx="555.12" cy="724.79" r="5.7" fill="#5ba8f5"/>
<circle cx="561.44" cy="795.31" r="5.7" fill="#5aa1f5"/>
<circle cx="567.76" cy="795.31" r="5.7" fill="#5fdaf1"/>
<circle cx="574.08" cy="795.31" r="5.7" fill="#5fc1f3"/>
<circle cx="580.4" cy="712.6" r="5.7" fill="#71f4c7"/>
<circle cx="586.72" cy="795.31" r="5.7" fill="#5fe5f0"/>
<circle cx="593.04" cy="712.6" r="5.7" fill="#5a6cf5"/>
<circle cx="599.36" cy="746.52" r="5.7" fill="#5fe5f0"/>
<circle cx="605.68" cy="669.98" r="5.7" fill="#66f1dd"/>
<circle cx="612" cy="740.67" r="5.7" fill="#5a6cf5"/>
<circle cx="618.32" cy="746.52" r="5.7" fill="#5fe5f0"/>
<circle cx="624.64" cy="695.55" r="5.7" fill="#5fe5f0"/>
<polyline fill="none" stroke="#000" stroke-width="2.5" stroke-linejoin="round" stroke-linecap="square" points="378.15,768.24 384.47,774.42 390.79,767.4 397.11,767.4 403.43,766.57 409.75,765.4 416.07,768.24 422.39,778.27 428.71,778.27 435.03,773.75 441.35,771.08 447.67,769.08 453.99,767.74 460.31,781.61 466.63,767.74 472.95,771.58 479.27,772.08 485.59,769.41 491.91,769.08 498.23,763.23 504.56,781.61 510.88,769.91 517.2,763.73 523.52,769.41 529.84,769.41 536.16,767.07 542.48,778.27 548.8,768.24 555.12,770.41 561.44,773.25 567.76,764.9 574.08,769.91 580.4,781.11 586.72,769.91 593.04,767.74 599.36,771.58 605.68,768.74 612,767.07 618.32,770.41 624.64,769.91"/>
</g>
<path d="M371.83 797.65v-5.7M371.83 619.2v5.7M384.47 797.65v-5.7M384.47 619.2v5.7M390.79 797.65v-5.7M390.79 619.2v5.7M397.11 797.65v-5.7M397.11 619.2v5.7M403.43 797.65v-5.7M403.43 619.2v5.7M409.75 797.65v-5.7M409.75 619.2v5.7M416.07 797.65v-5.7M416.07 619.2v5.7M422.39 797.65v-5.7M422.39 619.2v5.7M428.71 797.65v-5.7M428.71 619.2v5.7M441.35 797.65v-5.7M441.35 619.2v5.7M447.67 797.65v-5.7M447.67 619.2v5.7M453.99 797.65v-5.7M453.99 619.2v5.7M460.31 797.65v-5.7M460.31 619.2v5.7M466.63 797.65v-5.7M466.63 619.2v5.7M472.95 797.65v-5.7M472.95 619.2v5.7M479.27 797.65v-5.7M479.27 619.2v5.7M485.59 797.65v-5.7M485.59 619.2v5.7M491.91 797.65v-5.7M491.91 619.2v5.7M504.56 797.65v-5.7M504.56 619.2v5.7M510.88 797.65v-5.7M510.88 619.2v5.7M517.2 797.65v-5.7M517.2 619.2v5.7M523.52 797.65v-5.7M523.52 619.2v5.7M529.84 797.65v-5.7M529.84 619.2v5.7M536.16 797.65v-5.7M536.16 619.2v5.7M542.48 797.65v-5.7M542.48 619.2v5.7M548.8 797.65v-5.7M548.8 619.2v5.7M555.12 797.65v-5.7M555.12 619.2v5.7M567.76 797.65v-5.7M567.76 619.2v5.7M574.08 797.65v-5.7M574.08 619.2v5.7M580.4 797.65v-5.7M580.4 619.2v5.7M586.72 797.65v-5.7M586.72 619.2v5.7M593.04 797.65v-5.7M593.04 619.2v5.7M599.36 797.65v-5.7M599.36 619.2v5.7M605.68 797.65v-5.7M605.68 619.2v5.7M612 797.65v-5.7M612 619.2v5.7M618.32 797.65v-5.7M618.32 619.2v5.7M630.96 797.65v-5.7M630.96 619.2v5.7" stroke="#000" stroke-width="1.7" fill="none"/>
<path d="M378.15 797.65v-10M378.15 619.2v10M435.03 797.65v-10M435.03 619.2v10M498.23 797.65v-10M498.23 619.2v10M561.44 797.65v-10M561.44 619.2v10M624.64 797.65v-10M624.64 619.2v10M365.83 734h10M636.96 734h-10M365.83 670.3h10M636.96 670.3h-10" stroke="#000" stroke-width="2.1" fill="none"/>
<rect x="365.83" y="619.2" width="271.13" height="178.45" fill="none" stroke="#000" stroke-width="2.3"/>
<text class="tk" x="378.15" y="826.95" text-anchor="middle">1</text>
<text class="tk" x="435.03" y="826.95" text-anchor="middle">10</text>
<text class="tk" x="498.23" y="826.95" text-anchor="middle">20</text>
<text class="tk" x="561.44" y="826.95" text-anchor="middle">30</text>
<text class="tk" x="624.64" y="826.95" text-anchor="middle">40</text>
<text font-size="37" x="501.69" y="602.8" text-anchor="middle">B</text>
<clipPath id="c3C"><rect x="636.97" y="619.2" width="271.13" height="178.45"/></clipPath>
<g clip-path="url(#c3C)">
<polygon fill="#9beeea" stroke="#9beeea" stroke-width="2" stroke-linejoin="round" points="649.29,719.95 655.61,669.81 661.93,718.61 668.25,718.61 674.57,718.27 680.89,712.43 687.21,723.62 693.53,704.57 699.85,711.59 706.17,721.95 712.49,704.57 718.81,704.07 725.13,669.81 731.45,721.62 737.77,723.62 744.09,711.59 750.41,704.57 756.73,715.77 763.05,712.43 769.37,712.43 775.7,684.02 782.02,709.08 788.34,709.92 794.66,701.56 800.98,704.91 807.3,722.45 813.62,720.78 819.94,712.43 826.26,716.6 832.58,711.59 838.9,701.56 845.22,719.61 851.54,669.81 857.86,705.74 864.18,711.92 870.5,719.44 876.82,711.59 883.14,704.57 889.46,712.43 895.78,712.43 895.78,799.83 889.46,799.83 883.14,799.83 876.82,799.83 870.5,799.83 864.18,799.83 857.86,799.83 851.54,799.83 845.22,799.83 838.9,799.83 832.58,799.83 826.26,799.83 819.94,799.83 813.62,799.83 807.3,799.83 800.98,799.83 794.66,799.83 788.34,799.83 782.02,799.83 775.7,799.83 769.37,799.83 763.05,799.83 756.73,799.83 750.41,799.83 744.09,799.83 737.77,799.83 731.45,799.83 725.13,799.83 718.81,799.83 712.49,799.83 706.17,799.83 699.85,799.83 693.53,799.83 687.21,799.83 680.89,799.83 674.57,799.83 668.25,799.83 661.93,799.83 655.61,799.83 649.29,799.83"/>
<circle cx="649.29" cy="795.31" r="5.7" fill="#585ef5"/>
<circle cx="655.61" cy="755.21" r="5.7" fill="#63efe4"/>
<circle cx="661.93" cy="753.2" r="5.7" fill="#9723f5"/>
<circle cx="668.25" cy="758.55" r="5.7" fill="#5a74f5"/>
<circle cx="674.57" cy="778.27" r="5.7" fill="#5a84f5"/>
<circle cx="680.89" cy="776.6" r="5.7" fill="#5a96f5"/>
<circle cx="687.21" cy="774.09" r="5.7" fill="#5a96f5"/>
<circle cx="693.53" cy="795.31" r="5.7" fill="#5a96f5"/>
<circle cx="699.85" cy="763.23" r="5.7" fill="#5c4ff6"/>
<circle cx="706.17" cy="779.1" r="5.7" fill="#5957f5"/>
<circle cx="712.49" cy="751.03" r="5.7" fill="#5a96f5"/>
<circle cx="718.81" cy="751.03" r="5.7" fill="#5a96f5"/>
<circle cx="725.13" cy="733.98" r="5.7" fill="#71f4c7"/>
<circle cx="731.45" cy="767.4" r="5.7" fill="#6444f6"/>
<circle cx="737.77" cy="700.23" r="5.7" fill="#9a24f5"/>
<circle cx="744.09" cy="795.31" r="5.7" fill="#63efe4"/>
<circle cx="750.41" cy="795.31" r="5.7" fill="#5a96f5"/>
<circle cx="756.73" cy="765.73" r="5.7" fill="#5c4ff6"/>
<circle cx="763.05" cy="780.77" r="5.7" fill="#5c4ff6"/>
<circle cx="769.37" cy="733.98" r="5.7" fill="#5a8ef5"/>
<circle cx="775.7" cy="740.67" r="5.7" fill="#5ebaf3"/>
<circle cx="782.02" cy="755.21" r="5.7" fill="#63efe4"/>
<circle cx="788.34" cy="712.6" r="5.7" fill="#5fc1f3"/>
<circle cx="794.66" cy="733.98" r="5.7" fill="#5fdaf1"/>
<circle cx="800.98" cy="751.03" r="5.7" fill="#5a96f5"/>
<circle cx="807.3" cy="752.87" r="5.7" fill="#6047f7"/>
<circle cx="813.62" cy="772.08" r="5.7" fill="#8727f5"/>
<circle cx="819.94" cy="740.67" r="5.7" fill="#5fc1f3"/>
<circle cx="826.26" cy="744.01" r="5.7" fill="#8c26f5"/>
<circle cx="832.58" cy="712.6" r="5.7" fill="#5fc1f3"/>
<circle cx="838.9" cy="765.23" r="5.7" fill="#5fdaf1"/>
<circle cx="845.22" cy="755.21" r="5.7" fill="#8727f5"/>
<circle cx="851.54" cy="755.21" r="5.7" fill="#63efe4"/>
<circle cx="857.86" cy="742.84" r="5.7" fill="#5957f5"/>
<circle cx="864.18" cy="776.6" r="5.7" fill="#5a84f5"/>
<circle cx="870.5" cy="772.42" r="5.7" fill="#9324f5"/>
<circle cx="876.82" cy="795.31" r="5.7" fill="#5fc1f3"/>
<circle cx="883.14" cy="751.03" r="5.7" fill="#5a96f5"/>
<circle cx="889.46" cy="780.77" r="5.7" fill="#5c4ff6"/>
<circle cx="895.78" cy="746.52" r="5.7" fill="#5a54f6"/>
<polyline fill="none" stroke="#000" stroke-width="2.5" stroke-linejoin="round" stroke-linecap="square" points="649.29,769.41 655.61,774.09 661.93,766.57 668.25,772.75 674.57,770.75 680.89,769.41 687.21,778.77 693.53,767.4 699.85,768.24 706.17,772.08 712.49,768.74 718.81,772.08 725.13,773.25 731.45,770.75 737.77,770.75 744.09,786.62 750.41,774.09 756.73,772.08 763.05,772.42 769.37,774.09 775.7,767.4 782.02,778.27 788.34,772.75 794.66,774.42 800.98,767.4 807.3,772.75 813.62,769.41 819.94,774.92 826.26,769.91 832.58,769.91 838.9,771.08 845.22,772.42 851.54,771.08 857.86,768.74 864.18,765.4 870.5,767.07 876.82,769.41 883.14,770.41 889.46,764.9 895.78,772.08"/>
</g>
<path d="M642.97 797.65v-5.7M642.97 619.2v5.7M655.61 797.65v-5.7M655.61 619.2v5.7M661.93 797.65v-5.7M661.93 619.2v5.7M668.25 797.65v-5.7M668.25 619.2v5.7M674.57 797.65v-5.7M674.57 619.2v5.7M680.89 797.65v-5.7M680.89 619.2v5.7M687.21 797.65v-5.7M687.21 619.2v5.7M693.53 797.65v-5.7M693.53 619.2v5.7M699.85 797.65v-5.7M699.85 619.2v5.7M712.49 797.65v-5.7M712.49 619.2v5.7M718.81 797.65v-5.7M718.81 619.2v5.7M725.13 797.65v-5.7M725.13 619.2v5.7M731.45 797.65v-5.7M731.45 619.2v5.7M737.77 797.65v-5.7M737.77 619.2v5.7M744.09 797.65v-5.7M744.09 619.2v5.7M750.41 797.65v-5.7M750.41 619.2v5.7M756.73 797.65v-5.7M756.73 619.2v5.7M763.05 797.65v-5.7M763.05 619.2v5.7M775.7 797.65v-5.7M775.7 619.2v5.7M782.02 797.65v-5.7M782.02 619.2v5.7M788.34 797.65v-5.7M788.34 619.2v5.7M794.66 797.65v-5.7M794.66 619.2v5.7M800.98 797.65v-5.7M800.98 619.2v5.7M807.3 797.65v-5.7M807.3 619.2v5.7M813.62 797.65v-5.7M813.62 619.2v5.7M819.94 797.65v-5.7M819.94 619.2v5.7M826.26 797.65v-5.7M826.26 619.2v5.7M838.9 797.65v-5.7M838.9 619.2v5.7M845.22 797.65v-5.7M845.22 619.2v5.7M851.54 797.65v-5.7M851.54 619.2v5.7M857.86 797.65v-5.7M857.86 619.2v5.7M864.18 797.65v-5.7M864.18 619.2v5.7M870.5 797.65v-5.7M870.5 619.2v5.7M876.82 797.65v-5.7M876.82 619.2v5.7M883.14 797.65v-5.7M883.14 619.2v5.7M889.46 797.65v-5.7M889.46 619.2v5.7M902.1 797.65v-5.7M902.1 619.2v5.7" stroke="#000" stroke-width="1.7" fill="none"/>
<path d="M649.29 797.65v-10M649.29 619.2v10M706.17 797.65v-10M706.17 619.2v10M769.37 797.65v-10M769.37 619.2v10M832.58 797.65v-10M832.58 619.2v10M895.78 797.65v-10M895.78 619.2v10M636.97 734h10M908.1 734h-10M636.97 670.3h10M908.1 670.3h-10" stroke="#000" stroke-width="2.1" fill="none"/>
<rect x="636.97" y="619.2" width="271.13" height="178.45" fill="none" stroke="#000" stroke-width="2.3"/>
<text class="tk" x="649.29" y="826.95" text-anchor="middle">1</text>
<text class="tk" x="706.17" y="826.95" text-anchor="middle">10</text>
<text class="tk" x="769.37" y="826.95" text-anchor="middle">20</text>
<text class="tk" x="832.58" y="826.95" text-anchor="middle">30</text>
<text class="tk" x="895.78" y="826.95" text-anchor="middle">40</text>
<text font-size="37" x="772.84" y="602.8" text-anchor="middle">C</text>
<text class="tk" x="85.2" y="808.15" text-anchor="end">0.00</text>
<text class="tk" x="85.2" y="744.5" text-anchor="end">0.25</text>
<text class="tk" x="85.2" y="680.8" text-anchor="end">0.50</text>
<text class="it" font-size="29.5" transform="translate(19.3 718.33) rotate(-90)">χ<tspan font-size="21" dy="5" dx="1.2">i</tspan></text>
<text class="it" font-size="34" x="0.9" y="598" textLength="22.1" lengthAdjust="spacingAndGlyphs">φ</text>
<text class="it" font-size="23" x="23.5" y="603.4" textLength="24" lengthAdjust="spacingAndGlyphs">th</text>
<text font-size="36" transform="translate(58.5 599.3) scale(1 0.77)" textLength="27" lengthAdjust="spacingAndGlyphs">=</text>
<text font-size="36" x="84.9" y="598" textLength="46.0" lengthAdjust="spacingAndGlyphs">1.0</text>
<path d="M0 610H131.6" stroke="#000" stroke-width="1.9"/>
<rect x="923.1" y="619.25" width="15.4" height="180.2" fill="url(#cb)" stroke="#000" stroke-width="2.3"/>
<path d="M939 632.2h9M939 695.7h9M939 760.1h9" stroke="#000" stroke-width="2.1" fill="none"/>
<text class="tk" x="957.6" y="642.5">15</text>
<text class="tk" x="957.6" y="706">10</text>
<text class="tk" x="957.6" y="770.4">5</text>
<text class="it" font-size="36" x="911.3" y="602.8" textLength="26" lengthAdjust="spacingAndGlyphs">N</text>
<text class="it" font-size="27" x="936.5" y="607.8" textLength="15" lengthAdjust="spacingAndGlyphs">α</text>
<clipPath id="c4A"><rect x="94.7" y="905.2" width="271.13" height="178.45"/></clipPath>
<g clip-path="url(#c4A)">
<polygon fill="#9beeea" stroke="#9beeea" stroke-width="2" stroke-linejoin="round" points="107.02,955.81 113.51,913.2 120,955.81 126.48,955.81 132.97,955.81 139.46,955.81 145.94,913.2 152.43,950.8 158.92,940.27 165.4,929.91 171.89,955.81 178.37,955.81 184.86,913.2 191.35,913.2 197.83,929.91 204.32,949.13 210.81,913.2 217.29,913.2 223.78,955.81 230.26,955.81 236.75,955.81 243.24,955.81 249.72,934.43 256.21,913.2 262.7,955.81 269.18,954.98 275.67,913.2 282.16,913.2 288.64,913.2 295.13,913.2 301.62,931.58 308.1,950.8 314.59,932.42 321.07,913.2 327.56,954.14 334.05,955.81 340.53,954.98 347.02,929.91 353.51,955.81 353.51,1085.83 347.02,1085.83 340.53,1085.83 334.05,1085.83 327.56,1085.83 321.07,1085.83 314.59,1085.83 308.1,1085.83 301.62,1085.83 295.13,1085.83 288.64,1085.83 282.16,1085.83 275.67,1085.83 269.18,1085.83 262.7,1085.83 256.21,1085.83 249.72,1085.83 243.24,1085.83 236.75,1085.83 230.26,1085.83 223.78,1085.83 217.29,1085.83 210.81,1085.83 204.32,1085.83 197.83,1085.83 191.35,1085.83 184.86,1085.83 178.37,1085.83 171.89,1085.83 165.4,1085.83 158.92,1085.83 152.43,1085.83 145.94,1085.83 139.46,1085.83 132.97,1085.83 126.48,1085.83 120,1085.83 113.51,1085.83 107.02,1085.83"/>
<circle cx="107.02" cy="1081.31" r="5.7" fill="#6ff4ca"/>
<circle cx="113.51" cy="1081.31" r="5.7" fill="#73f5c3"/>
<circle cx="120" cy="1081.31" r="5.7" fill="#73f5c3"/>
<circle cx="132.97" cy="1081.31" r="5.7" fill="#73f5c3"/>
<circle cx="139.46" cy="1019.65" r="5.7" fill="#5c4ff6"/>
<circle cx="145.94" cy="1081.31" r="5.7" fill="#6df3ce"/>
<circle cx="152.43" cy="955.98" r="5.7" fill="#5febf0"/>
<circle cx="165.4" cy="1032.52" r="5.7" fill="#5fc1f3"/>
<circle cx="171.89" cy="998.6" r="5.7" fill="#5a96f5"/>
<circle cx="178.37" cy="1081.31" r="5.7" fill="#73f5c3"/>
<circle cx="184.86" cy="1081.31" r="5.7" fill="#73f5c3"/>
<circle cx="191.35" cy="913.37" r="5.7" fill="#6cf2d2"/>
<circle cx="197.83" cy="981.55" r="5.7" fill="#5fc1f3"/>
<circle cx="204.32" cy="1081.31" r="5.7" fill="#73f5c3"/>
<circle cx="210.81" cy="998.6" r="5.7" fill="#6df3ce"/>
<circle cx="217.29" cy="1081.31" r="5.7" fill="#71f4c7"/>
<circle cx="223.78" cy="1081.31" r="5.7" fill="#5fe5f0"/>
<circle cx="230.26" cy="955.98" r="5.7" fill="#5febf0"/>
<circle cx="236.75" cy="1081.31" r="5.7" fill="#5fe5f0"/>
<circle cx="243.24" cy="1081.31" r="5.7" fill="#73f5c3"/>
<circle cx="256.21" cy="1081.31" r="5.7" fill="#6df3ce"/>
<circle cx="262.7" cy="955.98" r="5.7" fill="#5febf0"/>
<circle cx="269.18" cy="1081.31" r="5.7" fill="#73f5c3"/>
<circle cx="275.67" cy="1081.31" r="5.7" fill="#73f5c3"/>
<circle cx="295.13" cy="1081.31" r="5.7" fill="#6cf2d2"/>
<circle cx="308.1" cy="1019.65" r="5.7" fill="#5febf0"/>
<circle cx="321.07" cy="1081.31" r="5.7" fill="#73f5c3"/>
<circle cx="327.56" cy="1081.31" r="5.7" fill="#73f5c3"/>
<circle cx="334.05" cy="955.98" r="5.7" fill="#5febf0"/>
<circle cx="340.53" cy="1081.31" r="5.7" fill="#73f5c3"/>
<circle cx="347.02" cy="1032.52" r="5.7" fill="#5fc1f3"/>
<circle cx="353.51" cy="998.6" r="5.7" fill="#5a96f5"/>
<polyline fill="none" stroke="#000" stroke-width="2.5" stroke-linejoin="round" stroke-linecap="square" points="107.02,1065.1 113.51,1062.6 120,1065.1 126.48,1063.77 132.97,1062.6 139.46,1048.39 145.94,1055.41 152.43,1051.73 158.92,1050.4 165.4,1049.23 171.89,1050.4 178.37,1062.09 184.86,1060.42 191.35,1064.6 197.83,1049.73 204.32,1065.44 210.81,1058.75 217.29,1052.57 223.78,1059.75 230.26,1051.73 236.75,1047.22 243.24,1068.11 249.72,1065.94 256.21,1064.27 262.7,1051.4 269.18,1070.95 275.67,1052.07 282.16,1053.07 288.64,1053.74 295.13,1054.41 301.62,1055.41 308.1,1056.41 314.59,1058.75 321.07,1060.92 327.56,1062.6 334.05,1050.06 340.53,1058.08 347.02,1049.23 353.51,1051.4"/>
</g>
<path d="M100.54 1083.65v-5.7M100.54 905.2v5.7M113.51 1083.65v-5.7M113.51 905.2v5.7M120 1083.65v-5.7M120 905.2v5.7M126.48 1083.65v-5.7M126.48 905.2v5.7M132.97 1083.65v-5.7M132.97 905.2v5.7M139.46 1083.65v-5.7M139.46 905.2v5.7M145.94 1083.65v-5.7M145.94 905.2v5.7M152.43 1083.65v-5.7M152.43 905.2v5.7M158.92 1083.65v-5.7M158.92 905.2v5.7M171.89 1083.65v-5.7M171.89 905.2v5.7M178.37 1083.65v-5.7M178.37 905.2v5.7M184.86 1083.65v-5.7M184.86 905.2v5.7M191.35 1083.65v-5.7M191.35 905.2v5.7M197.83 1083.65v-5.7M197.83 905.2v5.7M204.32 1083.65v-5.7M204.32 905.2v5.7M210.81 1083.65v-5.7M210.81 905.2v5.7M217.29 1083.65v-5.7M217.29 905.2v5.7M223.78 1083.65v-5.7M223.78 905.2v5.7M236.75 1083.65v-5.7M236.75 905.2v5.7M243.24 1083.65v-5.7M243.24 905.2v5.7M249.72 1083.65v-5.7M249.72 905.2v5.7M256.21 1083.65v-5.7M256.21 905.2v5.7M262.7 1083.65v-5.7M262.7 905.2v5.7M269.18 1083.65v-5.7M269.18 905.2v5.7M275.67 1083.65v-5.7M275.67 905.2v5.7M282.16 1083.65v-5.7M282.16 905.2v5.7M288.64 1083.65v-5.7M288.64 905.2v5.7M301.62 1083.65v-5.7M301.62 905.2v5.7M308.1 1083.65v-5.7M308.1 905.2v5.7M314.59 1083.65v-5.7M314.59 905.2v5.7M321.07 1083.65v-5.7M321.07 905.2v5.7M327.56 1083.65v-5.7M327.56 905.2v5.7M334.05 1083.65v-5.7M334.05 905.2v5.7M340.53 1083.65v-5.7M340.53 905.2v5.7M347.02 1083.65v-5.7M347.02 905.2v5.7M353.51 1083.65v-5.7M353.51 905.2v5.7" stroke="#000" stroke-width="1.7" fill="none"/>
<path d="M107.02 1083.65v-10M107.02 905.2v10M165.4 1083.65v-10M165.4 905.2v10M230.26 1083.65v-10M230.26 905.2v10M295.13 1083.65v-10M295.13 905.2v10M359.99 1083.65v-10M359.99 905.2v10M94.7 1020h10M365.83 1020h-10M94.7 956.3h10M365.83 956.3h-10" stroke="#000" stroke-width="2.1" fill="none"/>
<rect x="94.7" y="905.2" width="271.13" height="178.45" fill="none" stroke="#000" stroke-width="2.3"/>
<text class="tk" x="107.02" y="1112.95" text-anchor="middle">1</text>
<text class="tk" x="165.4" y="1112.95" text-anchor="middle">10</text>
<text class="tk" x="230.26" y="1112.95" text-anchor="middle">20</text>
<text class="tk" x="295.13" y="1112.95" text-anchor="middle">30</text>
<text class="tk" x="359.99" y="1112.95" text-anchor="middle">40</text>
<text font-size="37" x="230.56" y="888.8" text-anchor="middle" textLength="22.8" lengthAdjust="spacingAndGlyphs">A</text>
<clipPath id="c4B"><rect x="365.83" y="905.2" width="271.13" height="178.45"/></clipPath>
<g clip-path="url(#c4B)">
<polygon fill="#9beeea" stroke="#9beeea" stroke-width="2" stroke-linejoin="round" points="378.15,955.81 384.64,913.2 391.13,955.81 397.61,955.81 404.1,955.81 410.59,955.81 417.07,955.81 423.56,913.2 430.04,945.79 436.53,914.37 443.02,933.59 449.5,952.81 455.99,955.81 462.48,942.78 468.96,929.91 475.45,952.81 481.94,955.81 488.42,913.2 494.91,913.2 501.39,954.14 507.88,955.81 514.37,913.2 520.85,945.79 527.34,913.2 533.83,913.2 540.31,913.2 546.8,913.2 553.29,955.81 559.77,935.26 566.26,914.37 572.75,954.98 579.23,955.81 585.72,913.2 592.2,941.61 598.69,967.51 605.18,913.2 611.66,945.79 618.15,913.2 624.64,913.2 624.64,1085.83 618.15,1085.83 611.66,1085.83 605.18,1085.83 598.69,1085.83 592.2,1085.83 585.72,1085.83 579.23,1085.83 572.75,1085.83 566.26,1085.83 559.77,1085.83 553.29,1085.83 546.8,1085.83 540.31,1085.83 533.83,1085.83 527.34,1085.83 520.85,1085.83 514.37,1085.83 507.88,1085.83 501.39,1085.83 494.91,1085.83 488.42,1085.83 481.94,1085.83 475.45,1085.83 468.96,1085.83 462.48,1085.83 455.99,1085.83 449.5,1085.83 443.02,1085.83 436.53,1085.83 430.04,1085.83 423.56,1085.83 417.07,1085.83 410.59,1085.83 404.1,1085.83 397.61,1085.83 391.13,1085.83 384.64,1085.83 378.15,1085.83"/>
<circle cx="378.15" cy="1081.31" r="5.7" fill="#5fe5f0"/>
<circle cx="384.64" cy="998.6" r="5.7" fill="#6cf2d2"/>
<circle cx="391.13" cy="1019.98" r="5.7" fill="#5febf0"/>
<circle cx="397.61" cy="1019.98" r="5.7" fill="#5febf0"/>
<circle cx="410.59" cy="1081.31" r="5.7" fill="#5fe5f0"/>
<circle cx="417.07" cy="1019.98" r="5.7" fill="#5febf0"/>
<circle cx="423.56" cy="998.6" r="5.7" fill="#6cf2d2"/>
<circle cx="430.04" cy="1081.31" r="5.7" fill="#73f5c3"/>
<circle cx="436.53" cy="1081.31" r="5.7" fill="#73f5c3"/>
<circle cx="449.5" cy="1081.31" r="5.7" fill="#73f5c3"/>
<circle cx="455.99" cy="955.98" r="5.7" fill="#74f5c2"/>
<circle cx="468.96" cy="1032.52" r="5.7" fill="#5ebaf3"/>
<circle cx="475.45" cy="1081.31" r="5.7" fill="#5fe5f0"/>
<circle cx="481.94" cy="955.98" r="5.7" fill="#74f5c2"/>
<circle cx="488.42" cy="1081.31" r="5.7" fill="#6df3ce"/>
<circle cx="494.91" cy="998.6" r="5.7" fill="#6cf2d2"/>
<circle cx="501.39" cy="955.98" r="5.7" fill="#74f5c2"/>
<circle cx="507.88" cy="1081.31" r="5.7" fill="#73f5c3"/>
<circle cx="514.37" cy="1081.31" r="5.7" fill="#73f5c3"/>
<circle cx="520.85" cy="1081.31" r="5.7" fill="#5a74f5"/>
<circle cx="527.34" cy="1081.31" r="5.7" fill="#6ff4ca"/>
<circle cx="533.83" cy="913.37" r="5.7" fill="#6af2d6"/>
<circle cx="540.31" cy="1081.31" r="5.7" fill="#73f5c3"/>
<circle cx="546.8" cy="1081.31" r="5.7" fill="#73f5c3"/>
<circle cx="553.29" cy="955.98" r="5.7" fill="#74f5c2"/>
<circle cx="559.77" cy="998.6" r="5.7" fill="#5a96f5"/>
<circle cx="566.26" cy="998.6" r="5.7" fill="#6df3ce"/>
<circle cx="572.75" cy="1081.31" r="5.7" fill="#73f5c3"/>
<circle cx="579.23" cy="1081.31" r="5.7" fill="#5fe5f0"/>
<circle cx="585.72" cy="998.6" r="5.7" fill="#6df3ce"/>
<circle cx="592.2" cy="1081.31" r="5.7" fill="#5fe5f0"/>
<circle cx="598.69" cy="1047.05" r="5.7" fill="#5a74f5"/>
<circle cx="605.18" cy="1081.31" r="5.7" fill="#6df3ce"/>
<circle cx="611.66" cy="1081.31" r="5.7" fill="#73f5c3"/>
<circle cx="618.15" cy="1081.31" r="5.7" fill="#73f5c3"/>
<circle cx="624.64" cy="1081.31" r="5.7" fill="#73f5c3"/>
<polyline fill="none" stroke="#000" stroke-width="2.5" stroke-linejoin="round" stroke-linecap="square" points="378.15,1054.57 384.64,1055.91 391.13,1048.89 397.61,1057.08 404.1,1056.75 410.59,1056.41 417.07,1053.74 423.56,1055.91 430.04,1070.45 436.53,1054.24 443.02,1055.91 449.5,1058.08 455.99,1058.08 462.48,1052.57 468.96,1047.56 475.45,1061.76 481.94,1057.58 488.42,1055.41 494.91,1060.42 501.39,1058.08 507.88,1067.61 514.37,1055.91 520.85,1044.72 527.34,1063.43 533.83,1056.75 540.31,1054.24 546.8,1055.91 553.29,1067.61 559.77,1050.9 566.26,1060.42 572.75,1058.08 579.23,1056.41 585.72,1065.44 592.2,1058.75 598.69,1054.24 605.18,1062.6 611.66,1058.42 618.15,1064.27 624.64,1053.74"/>
</g>
<path d="M371.67 1083.65v-5.7M371.67 905.2v5.7M384.64 1083.65v-5.7M384.64 905.2v5.7M391.13 1083.65v-5.7M391.13 905.2v5.7M397.61 1083.65v-5.7M397.61 905.2v5.7M404.1 1083.65v-5.7M404.1 905.2v5.7M410.59 1083.65v-5.7M410.59 905.2v5.7M417.07 1083.65v-5.7M417.07 905.2v5.7M423.56 1083.65v-5.7M423.56 905.2v5.7M430.04 1083.65v-5.7M430.04 905.2v5.7M443.02 1083.65v-5.7M443.02 905.2v5.7M449.5 1083.65v-5.7M449.5 905.2v5.7M455.99 1083.65v-5.7M455.99 905.2v5.7M462.48 1083.65v-5.7M462.48 905.2v5.7M468.96 1083.65v-5.7M468.96 905.2v5.7M475.45 1083.65v-5.7M475.45 905.2v5.7M481.94 1083.65v-5.7M481.94 905.2v5.7M488.42 1083.65v-5.7M488.42 905.2v5.7M494.91 1083.65v-5.7M494.91 905.2v5.7M507.88 1083.65v-5.7M507.88 905.2v5.7M514.37 1083.65v-5.7M514.37 905.2v5.7M520.85 1083.65v-5.7M520.85 905.2v5.7M527.34 1083.65v-5.7M527.34 905.2v5.7M533.83 1083.65v-5.7M533.83 905.2v5.7M540.31 1083.65v-5.7M540.31 905.2v5.7M546.8 1083.65v-5.7M546.8 905.2v5.7M553.29 1083.65v-5.7M553.29 905.2v5.7M559.77 1083.65v-5.7M559.77 905.2v5.7M572.75 1083.65v-5.7M572.75 905.2v5.7M579.23 1083.65v-5.7M579.23 905.2v5.7M585.72 1083.65v-5.7M585.72 905.2v5.7M592.2 1083.65v-5.7M592.2 905.2v5.7M598.69 1083.65v-5.7M598.69 905.2v5.7M605.18 1083.65v-5.7M605.18 905.2v5.7M611.66 1083.65v-5.7M611.66 905.2v5.7M618.15 1083.65v-5.7M618.15 905.2v5.7M624.64 1083.65v-5.7M624.64 905.2v5.7" stroke="#000" stroke-width="1.7" fill="none"/>
<path d="M378.15 1083.65v-10M378.15 905.2v10M436.53 1083.65v-10M436.53 905.2v10M501.39 1083.65v-10M501.39 905.2v10M566.26 1083.65v-10M566.26 905.2v10M631.12 1083.65v-10M631.12 905.2v10M365.83 1020h10M636.96 1020h-10M365.83 956.3h10M636.96 956.3h-10" stroke="#000" stroke-width="2.1" fill="none"/>
<rect x="365.83" y="905.2" width="271.13" height="178.45" fill="none" stroke="#000" stroke-width="2.3"/>
<text class="tk" x="378.15" y="1112.95" text-anchor="middle">1</text>
<text class="tk" x="436.53" y="1112.95" text-anchor="middle">10</text>
<text class="tk" x="501.39" y="1112.95" text-anchor="middle">20</text>
<text class="tk" x="566.26" y="1112.95" text-anchor="middle">30</text>
<text class="tk" x="631.12" y="1112.95" text-anchor="middle">40</text>
<text font-size="37" x="501.69" y="888.8" text-anchor="middle">B</text>
<clipPath id="c4C"><rect x="636.97" y="905.2" width="271.13" height="178.45"/></clipPath>
<g clip-path="url(#c4C)">
<polygon fill="#9beeea" stroke="#9beeea" stroke-width="2" stroke-linejoin="round" points="649.29,992.58 655.61,913.2 661.93,1004.27 668.25,994.75 674.57,985.06 680.89,986.73 687.21,980.38 693.53,974.2 699.85,998.43 706.17,998.43 712.49,974.2 718.81,970.85 725.13,913.2 731.45,995.92 737.77,1001.77 744.09,979.21 750.41,975.03 756.73,996.75 763.05,998.43 769.37,980.88 775.7,974.2 782.02,978.87 788.34,929.91 794.66,974.2 800.98,974.2 807.3,1005.95 813.62,996.75 819.94,987.56 826.26,1003.44 832.58,955.81 838.9,974.2 845.22,997.59 851.54,955.81 857.86,994.25 864.18,987.56 870.5,990.91 876.82,981.21 883.14,981.21 889.46,990.91 895.78,997.59 895.78,1085.83 889.46,1085.83 883.14,1085.83 876.82,1085.83 870.5,1085.83 864.18,1085.83 857.86,1085.83 851.54,1085.83 845.22,1085.83 838.9,1085.83 832.58,1085.83 826.26,1085.83 819.94,1085.83 813.62,1085.83 807.3,1085.83 800.98,1085.83 794.66,1085.83 788.34,1085.83 782.02,1085.83 775.7,1085.83 769.37,1085.83 763.05,1085.83 756.73,1085.83 750.41,1085.83 744.09,1085.83 737.77,1085.83 731.45,1085.83 725.13,1085.83 718.81,1085.83 712.49,1085.83 706.17,1085.83 699.85,1085.83 693.53,1085.83 687.21,1085.83 680.89,1085.83 674.57,1085.83 668.25,1085.83 661.93,1085.83 655.61,1085.83 649.29,1085.83"/>
<circle cx="649.29" cy="1081.31" r="5.7" fill="#5957f5"/>
<circle cx="655.61" cy="998.6" r="5.7" fill="#73f5c3"/>
<circle cx="661.93" cy="1038.87" r="5.7" fill="#9a24f5"/>
<circle cx="668.25" cy="1055.08" r="5.7" fill="#5a84f5"/>
<circle cx="674.57" cy="1063.93" r="5.7" fill="#6841f6"/>
<circle cx="680.89" cy="1050.9" r="5.7" fill="#5aa1f5"/>
<circle cx="687.21" cy="1058.08" r="5.7" fill="#5a74f5"/>
<circle cx="693.53" cy="1081.31" r="5.7" fill="#5ebaf3"/>
<circle cx="699.85" cy="1041.21" r="5.7" fill="#6047f7"/>
<circle cx="706.17" cy="1055.08" r="5.7" fill="#5a84f5"/>
<circle cx="712.49" cy="1010.79" r="5.7" fill="#5fc1f3"/>
<circle cx="718.81" cy="1026.67" r="5.7" fill="#5a96f5"/>
<circle cx="725.13" cy="998.6" r="5.7" fill="#73f5c3"/>
<circle cx="731.45" cy="1041.21" r="5.7" fill="#6047f7"/>
<circle cx="737.77" cy="971.52" r="5.7" fill="#9a24f5"/>
<circle cx="744.09" cy="1081.31" r="5.7" fill="#66f1dd"/>
<circle cx="750.41" cy="970.36" r="5.7" fill="#5a96f5"/>
<circle cx="756.73" cy="1081.31" r="5.7" fill="#9324f5"/>
<circle cx="763.05" cy="1062.26" r="5.7" fill="#6047f7"/>
<circle cx="769.37" cy="981.55" r="5.7" fill="#5a74f5"/>
<circle cx="775.7" cy="1046.39" r="5.7" fill="#5fc1f3"/>
<circle cx="782.02" cy="1032.52" r="5.7" fill="#63efe4"/>
<circle cx="788.34" cy="1032.52" r="5.7" fill="#63efe4"/>
<circle cx="794.66" cy="1046.39" r="5.7" fill="#5fc1f3"/>
<circle cx="800.98" cy="1046.39" r="5.7" fill="#5fc1f3"/>
<circle cx="807.3" cy="1065.1" r="5.7" fill="#8727f5"/>
<circle cx="813.62" cy="1049.73" r="5.7" fill="#8c26f5"/>
<circle cx="819.94" cy="1081.31" r="5.7" fill="#5aa1f5"/>
<circle cx="826.26" cy="1047.05" r="5.7" fill="#802af5"/>
<circle cx="832.58" cy="1081.31" r="5.7" fill="#66f1dd"/>
<circle cx="838.9" cy="1081.31" r="5.7" fill="#5ba8f5"/>
<circle cx="845.22" cy="1024.66" r="5.7" fill="#6444f6"/>
<circle cx="851.54" cy="1041.21" r="5.7" fill="#5fe5f0"/>
<circle cx="857.86" cy="998.6" r="5.7" fill="#5a96f5"/>
<circle cx="864.18" cy="1081.31" r="5.7" fill="#5aa1f5"/>
<circle cx="870.5" cy="1028.84" r="5.7" fill="#7b2ff5"/>
<circle cx="876.82" cy="1081.31" r="5.7" fill="#66f1dd"/>
<circle cx="883.14" cy="1081.31" r="5.7" fill="#66f1dd"/>
<circle cx="889.46" cy="1081.31" r="5.7" fill="#5c4ff6"/>
<circle cx="895.78" cy="998.6" r="5.7" fill="#5c4ff6"/>
<polyline fill="none" stroke="#000" stroke-width="2.5" stroke-linejoin="round" stroke-linecap="square" points="649.29,1054.24 655.61,1060.92 661.93,1055.08 668.25,1058.75 674.57,1053.4 680.89,1057.58 687.21,1058.42 693.53,1058.08 699.85,1051.73 706.17,1057.58 712.49,1058.08 718.81,1052.57 725.13,1059.75 731.45,1056.75 737.77,1058.42 744.09,1070.11 750.41,1054.24 756.73,1055.91 763.05,1053.74 769.37,1055.08 775.7,1050.4 782.02,1063.43 788.34,1053.4 794.66,1055.08 800.98,1056.75 807.3,1058.75 813.62,1057.58 819.94,1058.08 826.26,1058.08 832.58,1067.11 838.9,1059.25 845.22,1056.75 851.54,1054.74 857.86,1059.75 864.18,1056.75 870.5,1053.4 876.82,1064.77 883.14,1061.76 889.46,1054.24 895.78,1055.91"/>
</g>
<path d="M642.97 1083.65v-5.7M642.97 905.2v5.7M655.61 1083.65v-5.7M655.61 905.2v5.7M661.93 1083.65v-5.7M661.93 905.2v5.7M668.25 1083.65v-5.7M668.25 905.2v5.7M674.57 1083.65v-5.7M674.57 905.2v5.7M680.89 1083.65v-5.7M680.89 905.2v5.7M687.21 1083.65v-5.7M687.21 905.2v5.7M693.53 1083.65v-5.7M693.53 905.2v5.7M699.85 1083.65v-5.7M699.85 905.2v5.7M712.49 1083.65v-5.7M712.49 905.2v5.7M718.81 1083.65v-5.7M718.81 905.2v5.7M725.13 1083.65v-5.7M725.13 905.2v5.7M731.45 1083.65v-5.7M731.45 905.2v5.7M737.77 1083.65v-5.7M737.77 905.2v5.7M744.09 1083.65v-5.7M744.09 905.2v5.7M750.41 1083.65v-5.7M750.41 905.2v5.7M756.73 1083.65v-5.7M756.73 905.2v5.7M763.05 1083.65v-5.7M763.05 905.2v5.7M775.7 1083.65v-5.7M775.7 905.2v5.7M782.02 1083.65v-5.7M782.02 905.2v5.7M788.34 1083.65v-5.7M788.34 905.2v5.7M794.66 1083.65v-5.7M794.66 905.2v5.7M800.98 1083.65v-5.7M800.98 905.2v5.7M807.3 1083.65v-5.7M807.3 905.2v5.7M813.62 1083.65v-5.7M813.62 905.2v5.7M819.94 1083.65v-5.7M819.94 905.2v5.7M826.26 1083.65v-5.7M826.26 905.2v5.7M838.9 1083.65v-5.7M838.9 905.2v5.7M845.22 1083.65v-5.7M845.22 905.2v5.7M851.54 1083.65v-5.7M851.54 905.2v5.7M857.86 1083.65v-5.7M857.86 905.2v5.7M864.18 1083.65v-5.7M864.18 905.2v5.7M870.5 1083.65v-5.7M870.5 905.2v5.7M876.82 1083.65v-5.7M876.82 905.2v5.7M883.14 1083.65v-5.7M883.14 905.2v5.7M889.46 1083.65v-5.7M889.46 905.2v5.7M902.1 1083.65v-5.7M902.1 905.2v5.7" stroke="#000" stroke-width="1.7" fill="none"/>
<path d="M649.29 1083.65v-10M649.29 905.2v10M706.17 1083.65v-10M706.17 905.2v10M769.37 1083.65v-10M769.37 905.2v10M832.58 1083.65v-10M832.58 905.2v10M895.78 1083.65v-10M895.78 905.2v10M636.97 1020h10M908.1 1020h-10M636.97 956.3h10M908.1 956.3h-10" stroke="#000" stroke-width="2.1" fill="none"/>
<rect x="636.97" y="905.2" width="271.13" height="178.45" fill="none" stroke="#000" stroke-width="2.3"/>
<text class="tk" x="649.29" y="1112.95" text-anchor="middle">1</text>
<text class="tk" x="706.17" y="1112.95" text-anchor="middle">10</text>
<text class="tk" x="769.37" y="1112.95" text-anchor="middle">20</text>
<text class="tk" x="832.58" y="1112.95" text-anchor="middle">30</text>
<text class="tk" x="895.78" y="1112.95" text-anchor="middle">40</text>
<text font-size="37" x="772.84" y="888.8" text-anchor="middle">C</text>
<text class="tk" x="85.2" y="1094.15" text-anchor="end">0.00</text>
<text class="tk" x="85.2" y="1030.5" text-anchor="end">0.25</text>
<text class="tk" x="85.2" y="966.8" text-anchor="end">0.50</text>
<text class="it" font-size="29.5" transform="translate(19.3 1004.33) rotate(-90)">χ<tspan font-size="21" dy="5" dx="1.2">i</tspan></text>
<text class="it" font-size="34" x="0.9" y="884" textLength="22.1" lengthAdjust="spacingAndGlyphs">φ</text>
<text class="it" font-size="23" x="23.5" y="889.4" textLength="24" lengthAdjust="spacingAndGlyphs">th</text>
<text font-size="36" transform="translate(58.5 885.3) scale(1 0.77)" textLength="27" lengthAdjust="spacingAndGlyphs">=</text>
<text font-size="36" x="84.9" y="884" textLength="46.0" lengthAdjust="spacingAndGlyphs">1.2</text>
<path d="M0 896H131.6" stroke="#000" stroke-width="1.9"/>
<rect x="923.1" y="905.25" width="15.4" height="180.2" fill="url(#cb)" stroke="#000" stroke-width="2.3"/>
<path d="M939 938.1h9M939 1028.7h9" stroke="#000" stroke-width="2.1" fill="none"/>
<text class="tk" x="957.6" y="948.4">10</text>
<text class="tk" x="957.6" y="1039">5</text>
<text class="it" font-size="36" x="911.3" y="888.8" textLength="26" lengthAdjust="spacingAndGlyphs">N</text>
<text class="it" font-size="27" x="936.5" y="893.8" textLength="15" lengthAdjust="spacingAndGlyphs">α</text>
<text class="tk" x="502" y="1148.3" text-anchor="middle" textLength="127" lengthAdjust="spacingAndGlyphs">Fish index</text>
</svg></body></html>
